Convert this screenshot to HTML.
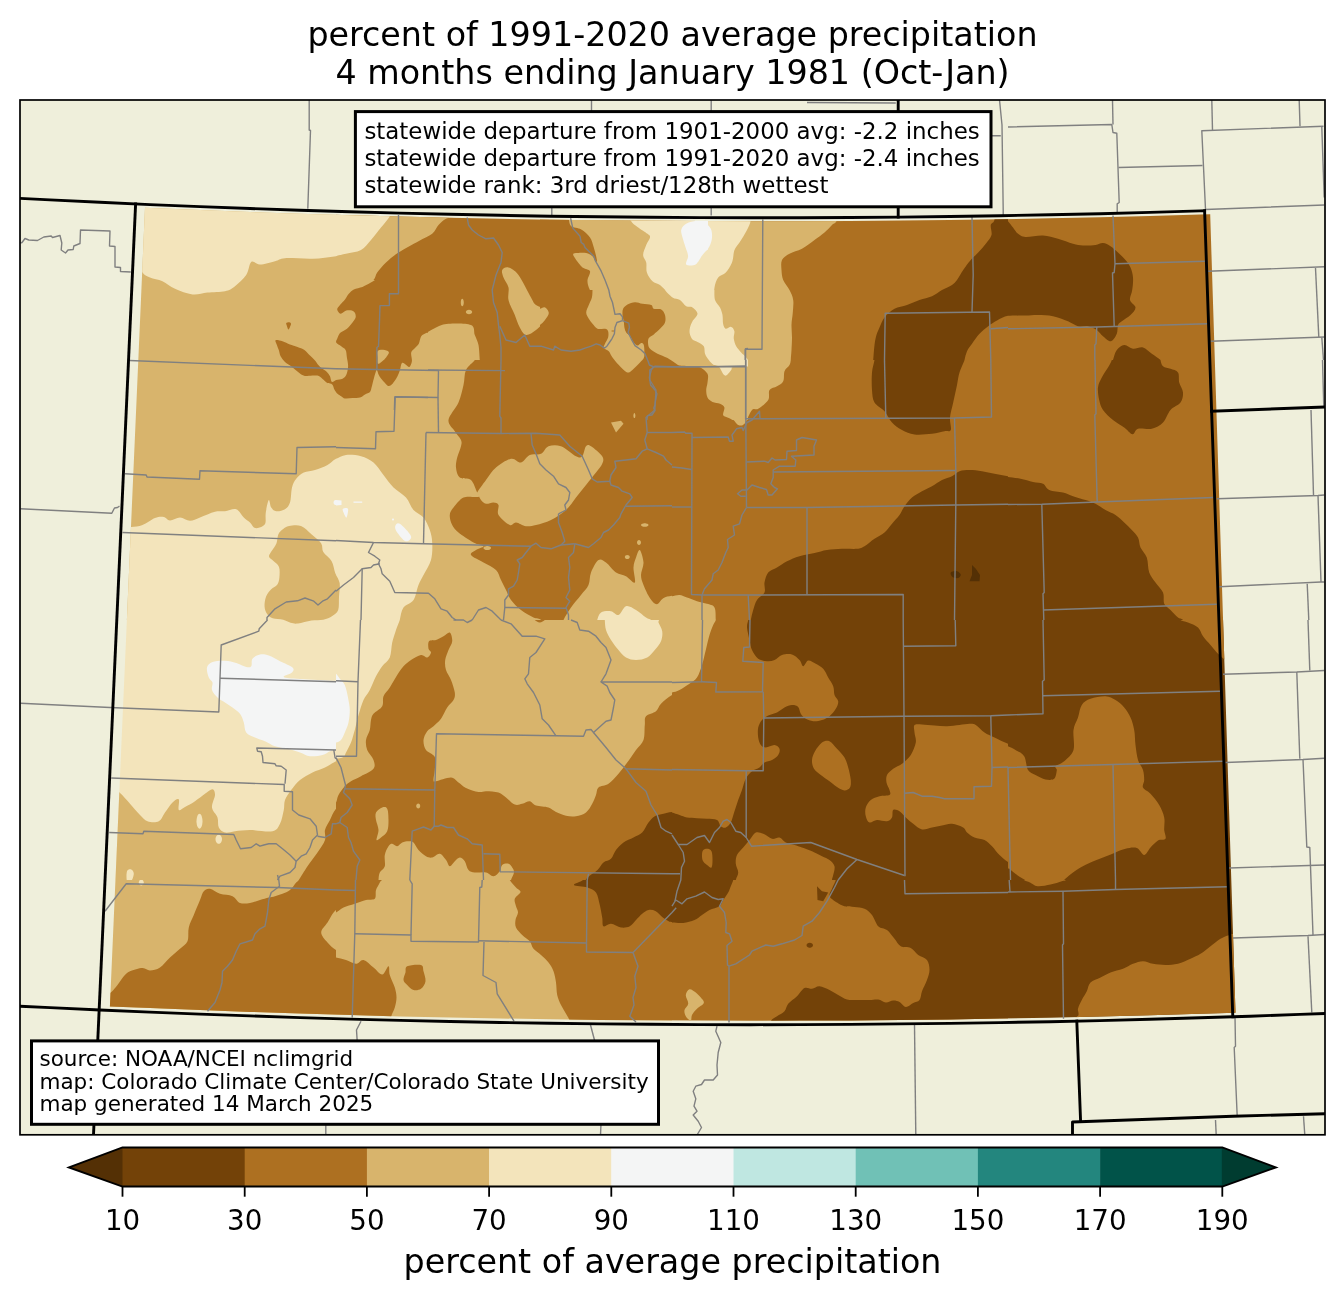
<!DOCTYPE html>
<html lang="en">
<head>
<meta charset="utf-8">
<title>percent of 1991-2020 average precipitation</title>
<style>
html,body{margin:0;padding:0;background:#fff;}
body{width:1344px;height:1299px;overflow:hidden;}
svg{display:block;}
text{font-family:"DejaVu Sans","Liberation Sans",sans-serif;fill:#000;}
.ttl{font-size:33.33px;text-anchor:middle;}
.box{font-size:22.92px;}
.src{font-size:21.5px;}
.tick{font-size:27.7px;text-anchor:middle;}
.cbl{font-size:33.33px;text-anchor:middle;}
.cty{fill:none;stroke:#808080;stroke-width:1.4;stroke-linejoin:round;}
.st{fill:none;stroke:#000;stroke-width:2.9;stroke-linecap:square;stroke-linejoin:round;}
</style>
</head>
<body>
<svg width="1344" height="1299" viewBox="0 0 1344 1299">
<defs>
<clipPath id="dq"><path d="M145,207.8L200,210.1L250,212L300,213.7L350,215.3L400,216.6L450,217.8L500,218.8L550,219.7L600,220.3L650,220.8L700,221.1L750,221.2L800,221.2L850,221L900,220.6L950,220L1000,219.2L1050,218.3L1100,217.2L1150,215.9L1200,214.4L1210.2,214.2L1235.5,1012.7L1200,1013.8L1150,1015.3L1100,1016.6L1050,1017.7L1000,1018.6L950,1019.4L900,1019.9L850,1020.4L800,1020.6L750,1020.7L700,1020.6L650,1020.3L600,1019.9L550,1019.2L500,1018.5L450,1017.5L400,1016.4L350,1015.1L300,1013.6L250,1011.9L200,1010.1L150,1008.1L109.9,1006.4Z"/></clipPath>
<clipPath id="t0"><rect x="0" y="100" width="336" height="260"/></clipPath>
<clipPath id="t1"><rect x="0" y="360" width="336" height="260"/></clipPath>
<clipPath id="t2"><rect x="0" y="620" width="336" height="260"/></clipPath>
<clipPath id="t3"><rect x="0" y="880" width="336" height="260"/></clipPath>
<clipPath id="t4"><rect x="336" y="100" width="336" height="260"/></clipPath>
<clipPath id="t5"><rect x="336" y="360" width="336" height="260"/></clipPath>
<clipPath id="t6"><rect x="336" y="620" width="336" height="260"/></clipPath>
<clipPath id="t7"><rect x="336" y="880" width="336" height="260"/></clipPath>
<clipPath id="t8"><rect x="672" y="100" width="336" height="260"/></clipPath>
<clipPath id="t9"><rect x="1008" y="100" width="336" height="260"/></clipPath>
<clipPath id="t10"><rect x="672" y="360" width="336" height="260"/></clipPath>
<clipPath id="t11"><rect x="1008" y="360" width="336" height="260"/></clipPath>
<clipPath id="t12"><rect x="672" y="620" width="336" height="260"/></clipPath>
<clipPath id="t13"><rect x="1008" y="620" width="336" height="260"/></clipPath>
<clipPath id="t14"><rect x="672" y="880" width="336" height="260"/></clipPath>
<clipPath id="t15"><rect x="1008" y="880" width="336" height="260"/></clipPath>
<clipPath id="t16"><rect x="540" y="200" width="168" height="130"/></clipPath>
<clipPath id="t17"><rect x="580" y="290" width="168" height="130"/></clipPath>
<clipPath id="t18"><rect x="260" y="280" width="168" height="130"/></clipPath>
<clipPath id="frame"><rect x="20" y="100" width="1305" height="1034.8"/></clipPath>
</defs>
<rect x="0" y="0" width="1344" height="1299" fill="#ffffff"/>
<!-- map background -->
<rect x="20" y="100" width="1305" height="1034.8" fill="#efefdb"/>
<g clip-path="url(#frame)">
<g clip-path="url(#dq)">
<g clip-path="url(#t0)">
<rect x="-0.5" y="99.5" width="337" height="261" fill="#d8b46c"/>
<path d="M120,195C84.2,205.8 136.2,247.1 140,260C143.8,272.9 140.8,269.6 142.5,272.5C144.2,275.4 146.7,276 150,277.5C153.3,279 158.3,279.4 162.5,281.2C166.7,283.1 170,286.5 175,288.8C180,291 187.1,293.9 192.5,294.5C197.9,295.1 202.1,293 207.5,292.5C212.9,292 220.4,292.3 225,291.2C229.6,290.2 231.5,289 235,286.2C238.5,283.5 243.5,279 246.2,275C249,271 249,263.8 251.2,262C253.5,260.2 256,264.6 260,264.5C264,264.4 270.8,262.3 275,261.2C279.2,260.2 278.8,258.7 285,258.2C291.2,257.8 304,259.1 312.5,258.8C321,258.4 328.9,257 336,256.2C343.1,255.5 351.8,264.7 355,254.5C358.2,244.3 394.2,204.9 355,195C315.8,185.1 155.8,184.2 120,195Z" fill="#f3e4bb"/>
<path d="M289.8,325C289.8,325.7 289.5,326.6 289.2,327.1C288.9,327.6 288.4,328 288,328C287.6,328 287.1,327.6 286.8,327.1C286.5,326.6 286.2,325.7 286.2,325C286.2,324.3 286.5,323.4 286.8,322.9C287.1,322.4 287.6,322 288,322C288.4,322 288.9,322.4 289.2,322.9C289.5,323.4 289.8,324.3 289.8,325Z" fill="#ad7021"/>
<path d="M275,340C276.6,339 282.9,342.1 287.5,343.8C292.1,345.4 297.9,347.3 302.5,350C307.1,352.7 311.2,356.9 315,360C318.8,363.1 327.5,366.7 325,368.8C322.5,370.8 307.3,373.1 300,372.5C292.7,371.9 284.9,368.8 281.2,365C277.6,361.2 279,354.2 278,350C277,345.8 273.4,341 275,340Z" fill="#ad7021"/>
</g>
<g clip-path="url(#t1)">
<rect x="-0.5" y="359.5" width="337" height="261" fill="#d8b46c"/>
<path d="M275,350C272.1,351.7 279.4,357.3 282.5,360C285.6,362.7 290.2,363.8 293.8,366.2C297.3,368.8 300.6,374 303.8,375C306.9,376 309,371.5 312.5,372.5C316,373.5 321.5,379.4 325,381.2C328.5,383.1 331.9,382.1 333.8,383.8C335.6,385.4 334.1,388.5 336,391.2C337.9,394 343.1,400.2 345,400C346.9,399.8 349,393 347.5,390C346,387 339.8,385.1 336,382C332.2,378.9 329.3,374.9 325,371.2C320.7,367.6 314.2,363.5 310,360C305.8,356.5 305.8,351.7 300,350C294.2,348.3 277.9,348.3 275,350Z" fill="#ad7021"/>
<path d="M120,528C121.9,510 127.5,527.5 131.2,527C135,526.5 138.5,526.5 142.5,525C146.5,523.5 151.5,519.3 155,518C158.5,516.7 161.2,516.6 163.8,517C166.2,517.4 167.3,520.4 170,520.5C172.7,520.6 176.7,517.5 180,517.5C183.3,517.5 186.7,520.8 190,520.8C193.3,520.8 195.8,519 200,517.5C204.2,516 210.8,512.8 215,511.8C219.2,510.7 221.5,511.7 225,511.2C228.5,510.8 233.1,508.2 236.2,509.2C239.4,510.3 241.5,515.3 243.8,517.5C246,519.7 248.1,520.8 250,522.5C251.9,524.2 252.9,527.4 255,528C257.1,528.6 260.8,527.2 262.5,526.2C264.2,525.3 265,524.8 265.5,522.5C266,520.2 265.2,516.2 265.8,512.5C266.3,508.8 267.8,500.8 268.8,500C269.7,499.2 270,505.6 271.2,507.5C272.5,509.4 274,511 276.2,511.2C278.5,511.5 282.7,510.7 285,509.2C287.3,507.8 288.8,506.1 290,502.5C291.2,498.9 291,491.5 292,487.5C293,483.5 294.3,481.2 296.2,478.8C298.2,476.2 300.6,474 303.8,472.5C306.9,471 311,471.2 315,470C319,468.8 324,466.9 327.5,465C331,463.1 332.2,460.8 336,458.8C339.8,456.7 346.8,423.1 350,452.5C353.2,481.9 393.3,604.6 355,635C316.7,665.4 159.2,652.8 120,635C80.8,617.2 118.1,546 120,528Z" fill="#f3e4bb"/>
<path d="M337.5,502.5C337.5,503.1 337.2,503.9 336.9,504.3C336.6,504.7 336,505 335.5,505C335,505 334.4,504.7 334.1,504.3C333.8,503.9 333.5,503.1 333.5,502.5C333.5,501.9 333.8,501.1 334.1,500.7C334.4,500.3 335,500 335.5,500C336,500 336.6,500.3 336.9,500.7C337.2,501.1 337.5,501.9 337.5,502.5Z" fill="#f4f5f5"/>
</g>
<g clip-path="url(#t2)">
<rect x="-0.5" y="619.5" width="337" height="261" fill="#f3e4bb"/>
<path d="M207,667.5C207.6,664.9 209.5,663.1 212.5,662C215.5,660.9 221,660.6 225,660.8C229,660.9 232.7,662 236.2,663C239.8,664 243.8,666.5 246.2,667C248.8,667.5 250.2,667.6 251.2,666.2C252.3,664.9 251,660.7 252.5,658.8C254,656.8 257.3,655 260,654.5C262.7,654 265.4,654.4 268.8,655.5C272.1,656.6 276,659.2 280,661.2C284,663.2 290.5,665.6 292.5,667.5C294.5,669.4 293.5,670.9 292,672.5C290.5,674.1 282.4,675.9 283.8,677C285.1,678.1 291.3,678.4 300,679C308.7,679.6 326.8,680.4 336,680.8C345.2,681.1 351.8,669.7 355,681.2C358.2,692.8 358.2,738.5 355,750C351.8,761.5 340.2,749.8 336,750C331.8,750.2 332.2,750.4 330,751.2C327.8,752.1 325.8,754.2 322.5,755C319.2,755.8 313.8,756.7 310,756.2C306.2,755.8 303.8,753.8 300,752.5C296.2,751.2 291.7,749.8 287.5,748.8C283.3,747.7 278.8,747.5 275,746.2C271.2,745 268.3,742.7 265,741.2C261.7,739.8 258.1,739 255,737.5C251.9,736 248.1,735 246.2,732.5C244.4,730 244.8,725.6 243.8,722.5C242.7,719.4 241.9,716.2 240,713.8C238.1,711.2 235,709.4 232.5,707.5C230,705.6 227.5,704.2 225,702.5C222.5,700.8 219.7,699.6 217.5,697.5C215.3,695.4 212.8,692.5 212,690C211.2,687.5 213,684.6 212.5,682.5C212,680.4 209.7,680 208.8,677.5C207.8,675 206.4,670.1 207,667.5Z" fill="#f4f5f5"/>
<path d="M107.5,785C109.5,767.9 115.8,789.4 119.5,792.5C123.2,795.6 126.6,800 130,803.8C133.4,807.5 137.1,812.1 140,815C142.9,817.9 144.4,820.2 147.5,821.2C150.6,822.3 155.8,822.7 158.8,821.2C161.7,819.8 162.7,815.6 165,812.5C167.3,809.4 170.2,804.7 172.5,802.5C174.8,800.3 177.7,798.2 178.8,799.5C179.8,800.8 177.7,808.8 178.8,810C179.8,811.2 182.3,808.5 185,807C187.7,805.5 191.7,803.5 195,801.2C198.3,799 202.1,795.8 205,793.8C207.9,791.8 210.8,789 212.5,789.2C214.2,789.5 215.1,792 215,795C214.9,798 211.6,803.8 212,807.5C212.4,811.2 216.4,814.2 217.5,817.5C218.6,820.8 217.5,825 218.8,827.5C220,830 222.3,831.9 225,832.5C227.7,833.1 230.8,831.7 235,831.2C239.2,830.8 243.8,830 250,830C256.2,830 267.5,832.3 272.5,831.2C277.5,830.2 278.1,827.3 280,823.8C281.9,820.2 282.9,814 283.8,810C284.6,806 283.8,803.3 285,800C286.2,796.7 288.8,793.3 291.2,790C293.8,786.7 296.5,782.9 300,780C303.5,777.1 308.3,774.6 312.5,772.5C316.7,770.4 321.1,769.4 325,767.5C328.9,765.6 331,763.8 336,761.2C341,758.8 351.8,730.2 355,752.5C358.2,774.8 396.2,871.2 355,895C313.8,918.8 148.8,913.3 107.5,895C66.2,876.7 105.5,802.1 107.5,785Z" fill="#d8b46c"/>
<path d="M202.5,821.2C202.5,823 202.1,825.3 201.6,826.6C201.1,827.8 200.2,828.8 199.5,828.8C198.8,828.8 197.9,827.8 197.4,826.6C196.9,825.3 196.5,823 196.5,821.2C196.5,819.5 196.9,817.2 197.4,815.9C197.9,814.7 198.8,813.8 199.5,813.8C200.2,813.8 201.1,814.7 201.6,815.9C202.1,817.2 202.5,819.5 202.5,821.2Z" fill="#f3e4bb"/>
<path d="M222,839.2C222,840.3 221.6,841.7 221,842.4C220.5,843.2 219.5,843.8 218.8,843.8C218,843.8 217,843.2 216.5,842.4C215.9,841.7 215.5,840.3 215.5,839.2C215.5,838.2 215.9,836.8 216.5,836.1C217,835.3 218,834.8 218.8,834.8C219.5,834.8 220.5,835.3 221,836.1C221.6,836.8 222,838.2 222,839.2Z" fill="#f3e4bb"/>
<path d="M127,871.2C127.7,869.3 130.1,869.1 131.2,869.5C132.4,869.9 133.8,871.8 133.8,873.8C133.8,875.7 132.4,880 131.2,881.2C130.1,882.5 127.7,882.9 127,881.2C126.3,879.6 126.3,873.2 127,871.2Z" fill="#f3e4bb"/>
<path d="M295,885C286.5,884.2 296.7,883.1 298.8,880C300.8,876.9 304.4,870.8 307.5,866.2C310.6,861.7 314.6,856.9 317.5,852.5C320.4,848.1 323.8,843.8 325,840C326.2,836.2 324.2,833.3 325,830C325.8,826.7 328.2,823.5 330,820C331.8,816.5 332.7,812.9 336,808.8C339.3,804.6 347.7,782.3 350,795C352.3,807.7 359.2,870 350,885C340.8,900 303.5,885.8 295,885Z" fill="#ad7021"/>
</g>
<g clip-path="url(#t3)">
<rect x="-0.5" y="879.5" width="337" height="261" fill="#d8b46c"/>
<path d="M100,1000C101.8,992.9 107.8,995 110.8,992.5C113.7,990 115.3,987.7 117.5,985C119.7,982.3 121.7,978.5 123.8,976.2C125.8,974 126.9,972.6 130,971.2C133.1,969.9 139.2,968.1 142.5,968C145.8,967.9 147.1,970.6 150,970.5C152.9,970.4 156.7,969.7 160,967.5C163.3,965.3 166.7,960.6 170,957.5C173.3,954.4 177.1,951.5 180,948.8C182.9,946 186,944.8 187.5,941.2C189,937.7 187.7,931.9 188.8,927.5C189.8,923.1 191.9,919.6 193.8,915C195.6,910.4 198.3,904 200,900C201.7,896 202.1,893.1 203.8,891.2C205.4,889.4 207.3,888.3 210,888.8C212.7,889.2 216.2,892.5 220,893.8C223.8,895 229.2,894.7 232.5,896.2C235.8,897.8 237.1,901.9 240,903C242.9,904.1 246.7,903.5 250,903C253.3,902.5 256.9,900.9 260,900C263.1,899.1 266.2,898.1 268.8,897.5C271.2,896.9 272.7,896.9 275,896.2C277.3,895.6 280,894.8 282.5,893.8C285,892.7 287.7,891.9 290,890C292.3,888.1 294.8,884.2 296.2,882.5C297.7,880.8 297.9,881.7 298.8,880C299.6,878.3 291.9,873.8 301.2,872.5C310.6,871.2 346,845.4 355,872.5C364,899.6 397.5,1007.9 355,1035C312.5,1062.1 142.5,1040.8 100,1035C57.5,1029.2 98.2,1007.1 100,1000Z" fill="#ad7021"/>
<path d="M336,910C332.2,912.9 330,918.8 327.5,922.5C325,926.2 321.2,929.2 321.2,932.5C321.2,935.8 325,939.6 327.5,942.5C330,945.4 332.2,947.9 336,950C339.8,952.1 347.7,962.5 350,955C352.3,947.5 352.3,912.5 350,905C347.7,897.5 339.8,907.1 336,910Z" fill="#d8b46c"/>
<path d="M143.8,882.5C143.8,883.2 143.4,884.1 143,884.6C142.6,885.1 141.8,885.5 141.2,885.5C140.7,885.5 139.9,885.1 139.5,884.6C139.1,884.1 138.8,883.2 138.8,882.5C138.8,881.8 139.1,880.9 139.5,880.4C139.9,879.9 140.7,879.5 141.2,879.5C141.8,879.5 142.6,879.9 143,880.4C143.4,880.9 143.8,881.8 143.8,882.5Z" fill="#f3e4bb"/>
</g>
<g clip-path="url(#t4)">
<rect x="335.5" y="99.5" width="337" height="261" fill="#ad7021"/>
<path d="M331,307.5C331.8,324.6 334.3,304.2 336,302.5C337.7,300.8 338.5,299.6 341,297.5C343.5,295.4 347.2,291.9 351,290C354.8,288.1 359.8,287.9 363.5,286.2C367.2,284.6 371.2,282.3 373.5,280C375.8,277.7 375.2,275.4 377.2,272.5C379.3,269.6 382.5,265.8 386,262.5C389.5,259.2 393.1,256 398.5,252.5C403.9,249 412.9,244.4 418.5,241.2C424.1,238.1 428.9,236.5 432.2,233.8C435.6,231 436.2,227.5 438.5,225C440.8,222.5 443.1,220.3 446,218.8C448.9,217.2 454.3,218.6 456,215.5C457.7,212.4 476.8,202.6 456,200C435.2,197.4 351.8,182.1 331,200C310.2,217.9 330.2,290.4 331,307.5Z" fill="#d8b46c"/>
<path d="M331,260C331.8,268.5 333.5,257.3 336,256.2C338.5,255.2 341.8,254.8 346,253.8C350.2,252.7 356.8,252.3 361,250C365.2,247.7 367.7,243.8 371,240C374.3,236.2 377.9,231.5 381,227.5C384.1,223.5 387.7,220 389.8,216.2C391.8,212.5 403.3,206.9 393.5,205C383.7,203.1 341.4,195.8 331,205C320.6,214.2 330.2,251.5 331,260Z" fill="#f3e4bb"/>
<path d="M331,311.2C331.8,306.9 333.3,311.5 336,311.2C338.7,311 344.1,309.2 347.2,310C350.4,310.8 353.9,313.8 354.8,316.2C355.6,318.8 354.1,322.7 352.2,325C350.4,327.3 346.2,328.1 343.5,330C340.8,331.9 338.1,335 336,336.2C333.9,337.5 331.8,341.7 331,337.5C330.2,333.3 330.2,315.6 331,311.2Z" fill="#d8b46c"/>
<path d="M416,365C405.4,364.2 415.6,362.5 416,360C416.4,357.5 417.7,353.8 418.5,350C419.3,346.2 418.1,341.2 421,337.5C423.9,333.8 431.4,329.8 436,327.5C440.6,325.2 442.7,324.2 448.5,323.8C454.3,323.3 466.6,323.1 471,325C475.4,326.9 473.5,331.7 474.8,335C476,338.3 477.7,340.8 478.5,345C479.3,349.2 479.5,356.7 479.8,360C480,363.3 490.4,364.2 479.8,365C469.1,365.8 426.6,365.8 416,365Z" fill="#d8b46c"/>
<path d="M377.2,365C375.8,364.2 377,362.3 377.2,360C377.5,357.7 377,352.9 378.5,351.2C380,349.6 384.1,349.6 386,350C387.9,350.4 389.8,352.1 389.8,353.8C389.8,355.4 386.6,358.1 386,360C385.4,361.9 387.5,364.2 386,365C384.5,365.8 378.7,365.8 377.2,365Z" fill="#d8b46c"/>
<path d="M463.8,302.5C463.8,303.4 463.6,304.5 463.3,305.2C463.1,305.8 462.6,306.2 462.2,306.2C461.9,306.2 461.4,305.8 461.2,305.2C460.9,304.5 460.8,303.4 460.8,302.5C460.8,301.6 460.9,300.5 461.2,299.8C461.4,299.2 461.9,298.8 462.2,298.8C462.6,298.8 463.1,299.2 463.3,299.8C463.6,300.5 463.8,301.6 463.8,302.5Z" fill="#d8b46c"/>
<path d="M472.2,312C472.2,312.5 471.8,313.2 471.3,313.6C470.8,314 469.8,314.2 469,314.2C468.2,314.2 467.2,314 466.7,313.6C466.2,313.2 465.8,312.5 465.8,312C465.8,311.5 466.2,310.8 466.7,310.4C467.2,310 468.2,309.8 469,309.8C469.8,309.8 470.8,310 471.3,310.4C471.8,310.8 472.2,311.5 472.2,312Z" fill="#d8b46c"/>
<path d="M502.2,270C503.1,268.3 505.8,266.7 508.5,267.5C511.2,268.3 514.8,270 518.5,275C522.2,280 528.1,292.5 531,297.5C533.9,302.5 533.1,302.7 536,305C538.9,307.3 546.8,308.8 548.5,311.2C550.2,313.8 548.1,316.9 546,320C543.9,323.1 539.3,327.5 536,330C532.7,332.5 528.7,335.4 526,335C523.3,334.6 521.6,330.8 519.8,327.5C517.9,324.2 516.6,319.6 514.8,315C512.9,310.4 509.5,304.6 508.5,300C507.5,295.4 509.3,291.2 508.5,287.5C507.7,283.8 504.5,280.4 503.5,277.5C502.5,274.6 501.4,271.7 502.2,270Z" fill="#d8b46c"/>
<path d="M568.5,200C549.3,203.2 569.8,214.9 571,219.5C572.2,224.1 573.5,225.3 576,227.5C578.5,229.7 583.5,230.4 586,232.5C588.5,234.6 589.3,236.2 591,240C592.7,243.8 594.3,249.2 596,255C597.7,260.8 598.5,267.5 601,275C603.5,282.5 608.1,291.7 611,300C613.9,308.3 618.5,318.3 618.5,325C618.5,331.7 612.7,335.8 611,340C609.3,344.2 608.5,345.8 608.5,350C608.5,354.2 598.1,362.5 611,365C623.9,367.5 673.5,392.5 686,365C698.5,337.5 705.6,227.5 686,200C666.4,172.5 587.7,196.8 568.5,200Z" fill="#d8b46c"/>
</g>
<g clip-path="url(#t5)">
<rect x="335.5" y="359.5" width="337" height="261" fill="#d8b46c"/>
<path d="M331,377.5C331.8,383.3 333.9,386.7 336,390C338.1,393.3 339.3,396.7 343.5,397.5C347.7,398.3 356.6,396.2 361,395C365.4,393.8 368.1,393.3 369.8,390C371.4,386.7 370.2,379.6 371,375C371.8,370.4 373.9,365.8 374.8,362.5C375.6,359.2 383.3,356.2 376,355C368.7,353.8 338.5,351.2 331,355C323.5,358.8 330.2,371.7 331,377.5Z" fill="#ad7021"/>
<path d="M377.2,355C371.4,357.1 376.4,363.3 377.2,367.5C378.1,371.7 380.4,377.1 382.2,380C384.1,382.9 386.2,385.2 388.5,385C390.8,384.8 394.1,381.7 396,378.8C397.9,375.8 397.2,370 399.8,367.5C402.2,365 408.9,365.8 411,363.8C413.1,361.7 417.9,356.5 412.2,355C406.6,353.5 383.1,352.9 377.2,355Z" fill="#ad7021"/>
<path d="M474.8,355C439.5,355.8 476.2,357.5 474.8,360C473.3,362.5 467.9,365.8 466,370C464.1,374.2 464.8,379.6 463.5,385C462.2,390.4 461,396.7 458.5,402.5C456,408.3 449.1,415.2 448.5,420C447.9,424.8 452.7,427.9 454.8,431.2C456.8,434.6 460,437.5 461,440C462,442.5 461.6,443.3 461,446.2C460.4,449.2 458.1,454 457.2,457.5C456.4,461 455.6,464.2 456,467.5C456.4,470.8 457.2,475.4 459.8,477.5C462.2,479.6 468.1,477.5 471,480C473.9,482.5 475.7,489.8 477.2,492.5C478.8,495.2 480.7,495.5 480.5,496.2C480.3,497 478.8,496.8 476,497C473.2,497.2 467.2,495.8 463.5,497.5C459.8,499.2 455.8,504.6 453.5,507.5C451.2,510.4 450,512.1 449.8,515C449.5,517.9 450.8,522.1 452.2,525C453.7,527.9 455,529.6 458.5,532.5C462,535.4 469.3,540.2 473.5,542.5C477.7,544.8 483.1,545 483.5,546.2C483.9,547.5 478.1,548.5 476,550C473.9,551.5 469.8,552.9 471,555C472.2,557.1 479.3,560 483.5,562.5C487.7,565 493.1,567.1 496,570C498.9,572.9 499.3,576.7 501,580C502.7,583.3 504.3,586.7 506,590C507.7,593.3 508.5,596.7 511,600C513.5,603.3 517.2,607.1 521,610C524.8,612.9 530.2,615.8 533.5,617.5C536.8,619.2 539.3,617.9 541,620C542.7,622.1 540.2,628.3 543.5,630C546.8,631.7 557.7,631.7 561,630C564.3,628.3 561.8,623.8 563.5,620C565.2,616.2 568.1,611.7 571,607.5C573.9,603.3 578.1,598.8 581,595C583.9,591.2 586.8,588.8 588.5,585C590.2,581.2 589.3,576.7 591,572.5C592.7,568.3 596,561.7 598.5,560C601,558.3 603.1,560.4 606,562.5C608.9,564.6 612.7,570.2 616,572.5C619.3,574.8 622.9,574.6 626,576.2C629.1,577.9 633.5,584 634.8,582.5C636,581 633.3,571.7 633.5,567.5C633.7,563.3 635,560.4 636,557.5C637,554.6 638.5,549.2 639.8,550C641,550.8 643.3,558.3 643.5,562.5C643.7,566.7 641,571.2 641,575C641,578.8 642,581.1 643.5,585C645,588.9 647.8,595 650,598.2C652.2,601.5 654.5,604.2 656.8,604.2C659,604.2 660.7,599.7 663.2,598.2C665.8,596.8 668.2,596.3 672,595.8C675.8,595.2 683.7,635.1 686,595C688.3,554.9 721.2,395 686,355C650.8,315 510,354.2 474.8,355Z" fill="#ad7021"/>
<path d="M478.5,495C477.9,493.8 476,495 477.2,492.5C478.5,490 482.9,484.2 486,480C489.1,475.8 491.8,471 496,467.5C500.2,464 506.8,459.6 511,458.8C515.2,457.9 517.9,463.1 521,462.5C524.1,461.9 526.4,456.5 529.8,455C533.1,453.5 537.9,455.2 541,453.8C544.1,452.3 545.2,447.5 548.5,446.2C551.8,445 556.4,444.6 561,446.2C565.6,447.9 572.5,454.6 576,456.2C579.5,457.9 580.6,457.9 582.2,456.2C583.9,454.6 584.5,447.9 586,446.2C587.5,444.6 588.3,444.6 591,446.2C593.7,447.9 600.4,453.3 602.2,456.2C604.1,459.2 603.3,461 602.2,463.8C601.2,466.5 598.7,469 596,472.5C593.3,476 589.3,480.8 586,485C582.7,489.2 579.3,493.3 576,497.5C572.7,501.7 570.2,506.2 566,510C561.8,513.8 556,517.5 551,520C546,522.5 540.2,524 536,525C531.8,526 529.3,526.7 526,526.2C522.7,525.8 518.7,522.7 516,522.5C513.3,522.3 512.7,526.2 509.8,525C506.8,523.8 500.4,518.3 498.5,515C496.6,511.7 499.3,507.1 498.5,505C497.7,502.9 495.6,502.7 493.5,502.5C491.4,502.3 488.1,504.2 486,503.8C483.9,503.3 482.2,501.5 481,500C479.8,498.5 479.1,496.2 478.5,495Z" fill="#d8b46c"/>
<path d="M617.2,355C612.7,355.8 617.9,358.3 617.2,360C616.6,361.7 611.6,363.1 613.5,365C615.4,366.9 624.1,371.2 628.5,371.2C632.9,371.2 637,366.9 639.8,365C642.5,363.1 643.9,361.7 644.8,360C645.6,358.3 649.3,355.8 644.8,355C640.2,354.2 621.8,354.2 617.2,355Z" fill="#d8b46c"/>
<path d="M611,422.5L621,420.8L623.5,423.8L616,432.5Z" fill="#d8b46c"/>
<path d="M635.5,415.8C635.5,416.4 635.3,417.2 635.1,417.7C634.9,418.2 634.5,418.5 634.2,418.5C634,418.5 633.6,418.2 633.4,417.7C633.2,417.2 633,416.4 633,415.8C633,415.1 633.2,414.3 633.4,413.8C633.6,413.3 634,413 634.2,413C634.5,413 634.9,413.3 635.1,413.8C635.3,414.3 635.5,415.1 635.5,415.8Z" fill="#d8b46c"/>
<path d="M648.5,525C648.5,525.4 648,525.9 647.4,526.2C646.8,526.5 645.6,526.8 644.8,526.8C643.9,526.8 642.7,526.5 642.1,526.2C641.5,525.9 641,525.4 641,525C641,524.6 641.5,524.1 642.1,523.8C642.7,523.5 643.9,523.2 644.8,523.2C645.6,523.2 646.8,523.5 647.4,523.8C648,524.1 648.5,524.6 648.5,525Z" fill="#d8b46c"/>
<path d="M641,542.5C641,543.1 640.7,543.9 640.4,544.3C640.1,544.7 639.5,545 639,545C638.5,545 637.9,544.7 637.6,544.3C637.3,543.9 637,543.1 637,542.5C637,541.9 637.3,541.1 637.6,540.7C637.9,540.3 638.5,540 639,540C639.5,540 640.1,540.3 640.4,540.7C640.7,541.1 641,541.9 641,542.5Z" fill="#d8b46c"/>
<path d="M629.8,557C629.8,557.5 629.4,558.1 629,558.4C628.6,558.7 627.8,559 627.2,559C626.7,559 625.9,558.7 625.5,558.4C625.1,558.1 624.8,557.5 624.8,557C624.8,556.5 625.1,555.9 625.5,555.6C625.9,555.3 626.7,555 627.2,555C627.8,555 628.6,555.3 629,555.6C629.4,555.9 629.8,556.5 629.8,557Z" fill="#d8b46c"/>
<path d="M491,548C491,548.5 490.5,549.1 489.9,549.4C489.3,549.7 488.1,550 487.2,550C486.4,550 485.2,549.7 484.6,549.4C484,549.1 483.5,548.5 483.5,548C483.5,547.5 484,546.9 484.6,546.6C485.2,546.3 486.4,546 487.2,546C488.1,546 489.3,546.3 489.9,546.6C490.5,546.9 491,547.5 491,548Z" fill="#d8b46c"/>
<path d="M331,460C331.8,431.5 333.5,459.6 336,458.8C338.5,457.9 341.8,455.4 346,455C350.2,454.6 356.4,455 361,456.2C365.6,457.5 369.8,459.4 373.5,462.5C377.2,465.6 380.2,470.8 383.5,475C386.8,479.2 389.8,483.8 393.5,487.5C397.2,491.2 402.7,493.8 406,497.5C409.3,501.2 410.6,506.7 413.5,510C416.4,513.3 420.8,514.2 423.5,517.5C426.2,520.8 428.3,525.8 429.8,530C431.2,534.2 432,537.5 432.2,542.5C432.5,547.5 432.5,554.6 431,560C429.5,565.4 425.6,570.8 423.5,575C421.4,579.2 420.2,580.8 418.5,585C416.8,589.2 416,596.2 413.5,600C411,603.8 405.8,604.2 403.5,607.5C401.2,610.8 400.6,616.2 399.8,620C398.9,623.8 410,628.3 398.5,630C387,631.7 342.2,658.3 331,630C319.8,601.7 330.2,488.5 331,460Z" fill="#f3e4bb"/>
<path d="M334.8,500L341.5,500.5L341.5,505L334.8,505.5Z" fill="#f4f5f5"/>
<path d="M353.5,501.5L362.2,501.5L362.2,502.8L353.5,502.8Z" fill="#f4f5f5"/>
<path d="M343,508.8C343.8,508.1 347.4,507.3 348,508.8C348.6,510.2 347.2,516.9 346.5,517.5C345.8,518.1 344.1,514 343.5,512.5C342.9,511 342.2,509.4 343,508.8Z" fill="#f4f5f5"/>
<path d="M395.2,526.2C395.7,524.8 397.1,522.1 399.8,523.8C402.4,525.4 410,533.3 411,536.2C412,539.2 407.8,541.9 405.5,541.2C403.2,540.6 399,535 397.2,532.5C395.5,530 394.8,527.7 395.2,526.2Z" fill="#f4f5f5"/>
<path d="M394,519.5C394,519.7 393.9,520 393.7,520.2C393.5,520.4 393.2,520.5 393,520.5C392.8,520.5 392.5,520.4 392.3,520.2C392.1,520 392,519.7 392,519.5C392,519.3 392.1,519 392.3,518.8C392.5,518.6 392.8,518.5 393,518.5C393.2,518.5 393.5,518.6 393.7,518.8C393.9,519 394,519.3 394,519.5Z" fill="#f4f5f5"/>
<path d="M597.2,625C588.1,624.2 596.6,622.1 597.2,620C597.9,617.9 598.7,614 601,612.5C603.3,611 608.1,610.8 611,611.2C613.9,611.7 616,615.8 618.5,615C621,614.2 623.1,607.1 626,606.2C628.9,605.4 632.7,608.1 636,610C639.3,611.9 643.5,615.8 646,617.5C648.5,619.2 650,618.8 651,620C652,621.2 661.2,624.2 652.2,625C643.3,625.8 606.4,625.8 597.2,625Z" fill="#f3e4bb"/>
</g>
<g clip-path="url(#t6)">
<rect x="335.5" y="619.5" width="337" height="261" fill="#d8b46c"/>
<path d="M399.8,615C411.2,615.8 400.4,617.5 399.8,620C399.1,622.5 397.2,626.2 396,630C394.8,633.8 393.3,637.9 392.2,642.5C391.2,647.1 391.4,653.5 389.8,657.5C388.1,661.5 384.5,663.1 382.2,666.2C380,669.4 378.1,672.3 376,676.2C373.9,680.2 371.8,686 369.8,690C367.7,694 365.4,695.8 363.5,700C361.6,704.2 360,710 358.5,715C357,720 356,725.4 354.8,730C353.5,734.6 352.5,738.8 351,742.5C349.5,746.2 347.2,750.1 346,752.5C344.8,754.9 345.2,756 343.5,757C341.8,758 338.1,758.5 336,758.8C333.9,759 331.8,782.7 331,758.8C330.2,734.8 319.5,639 331,615C342.5,591 388.3,614.2 399.8,615Z" fill="#f3e4bb"/>
<path d="M331,672.5C331.8,661 334.5,672.7 336,673.8C337.5,674.8 338.3,676.9 339.8,678.8C341.2,680.6 343.4,681.9 344.8,685C346.1,688.1 347.2,693.3 348,697.5C348.8,701.7 349.7,705.8 349.8,710C349.8,714.2 349.3,718.8 348.5,722.5C347.7,726.2 346,729.6 344.8,732.5C343.5,735.4 342.5,738.3 341,740C339.5,741.7 337.7,742 336,742.5C334.3,743 331.8,754.7 331,743C330.2,731.3 330.2,684 331,672.5Z" fill="#f4f5f5"/>
<path d="M604.8,615C596.2,615.8 604.5,617.5 604.8,620C605,622.5 605,626.7 606,630C607,633.3 608.9,636.7 611,640C613.1,643.3 616,647.1 618.5,650C621,652.9 623.1,655.8 626,657.5C628.9,659.2 632.5,660 636,660C639.5,660 644.1,659.2 647.2,657.5C650.4,655.8 652.5,652.7 654.8,650C657,647.3 659.8,644.4 661,641.2C662.2,638.1 662.7,634.4 662.2,631.2C661.8,628.1 659.5,625.2 658.5,622.5C657.5,619.8 665,616.2 656,615C647,613.8 613.3,614.2 604.8,615Z" fill="#f3e4bb"/>
<path d="M331,805C331.8,789.6 334.8,804.2 336,802.5C337.2,800.8 337,797.7 338.5,795C340,792.3 342.7,788.5 344.8,786.2C346.8,784 348.3,782.9 351,781.2C353.7,779.6 357.2,778.3 361,776.2C364.8,774.2 371.4,771.5 373.5,768.8C375.6,766 374.5,763.1 373.5,760C372.5,756.9 368.5,753.3 367.2,750C366,746.7 365.6,743.3 366,740C366.4,736.7 368.9,733.3 369.8,730C370.6,726.7 370.4,722.7 371,720C371.6,717.3 371.6,716 373.5,713.8C375.4,711.5 380.6,709.2 382.2,706.2C383.9,703.3 382.2,699.4 383.5,696.2C384.8,693.1 387.5,691 389.8,687.5C392,684 395,678.5 397.2,675C399.5,671.5 401.2,668.8 403.5,666.2C405.8,663.8 408.1,661.9 411,660C413.9,658.1 418.3,655.4 421,655C423.7,654.6 425.6,657.9 427.2,657.5C428.9,657.1 430.8,654 431,652.5C431.2,651 428.8,650.6 428.5,648.8C428.2,646.9 427.8,642.7 429,641.2C430.2,639.8 433.6,640.8 436,640C438.4,639.2 441.2,637.5 443.5,636.2C445.8,635 448.3,631.7 449.8,632.5C451.2,633.3 452.5,638.3 452.2,641.2C452,644.2 449.7,646.9 448.5,650C447.3,653.1 445.7,656.7 445.2,660C444.8,663.3 445,666.7 446,670C447,673.3 449.5,676.2 451,680C452.5,683.8 454.3,689.2 454.8,692.5C455.2,695.8 454.8,697.5 453.5,700C452.2,702.5 449.3,704.4 447.2,707.5C445.2,710.6 443.3,715.6 441,718.8C438.7,721.9 435.8,724.2 433.5,726.2C431.2,728.3 428.9,729 427.2,731.2C425.6,733.5 423.7,736.9 423.5,740C423.3,743.1 424.1,747.2 426,750C427.9,752.8 433.3,753.7 434.8,757C436.2,760.3 435,766.2 434.8,770C434.5,773.8 433.3,778.1 433.5,780C433.7,781.9 433.1,781.7 436,781.2C438.9,780.8 447.2,777.3 451,777.5C454.8,777.7 456,780.8 458.5,782.5C461,784.2 462.7,786.4 466,788C469.3,789.6 475.2,791.5 478.5,792C481.8,792.5 482.7,791.2 486,791.2C489.3,791.3 495.2,791.5 498.5,792.5C501.8,793.5 503.3,795.5 506,797.5C508.7,799.5 512,803.5 514.8,804.5C517.5,805.5 519.8,804.3 522.2,803.8C524.8,803.2 527.5,801 529.8,801.2C532,801.5 532.9,804.5 536,805.5C539.1,806.5 545.2,806.4 548.5,807.5C551.8,808.6 553.1,810.6 556,812C558.9,813.4 562.7,815 566,815.8C569.3,816.5 572.7,816.8 576,816.2C579.3,815.7 583.3,814.6 586,812.5C588.7,810.4 590.6,806.7 592.2,803.8C593.9,800.8 595,797.7 596,795C597,792.3 596.4,789.4 598.5,787.5C600.6,785.6 605.2,786 608.5,783.8C611.8,781.5 615.4,777.3 618.5,773.8C621.6,770.2 624.3,766.5 627.2,762.5C630.2,758.5 633.3,753.8 636,750C638.7,746.2 642,744.2 643.5,740C645,735.8 644.3,729 644.8,725C645.2,721 644.1,718.5 646,716.2C647.9,714 653.5,713.3 656,711.2C658.5,709.2 658.3,706.5 661,703.8C663.7,701 667.8,697.7 672,695C676.2,692.3 683.7,654.2 686,687.5C688.3,720.8 745.2,860.4 686,895C626.8,929.6 390.2,910 331,895C271.8,880 330.2,820.4 331,805Z" fill="#ad7021"/>
<path d="M581,895C563.9,895 582.4,887.9 583.5,885C584.6,882.1 585.2,880 587.5,877.5C589.8,875 594.8,872.5 597.5,870C600.2,867.5 601.2,864.4 603.5,862.5C605.8,860.6 608.9,860.8 611,858.8C613.1,856.7 613.9,852.7 616,850C618.1,847.3 620.6,844.6 623.5,842.5C626.4,840.4 630.4,839.2 633.5,837.5C636.6,835.8 639.8,835 642.2,832.5C644.8,830 646.4,825.2 648.5,822.5C650.6,819.8 652.2,817.7 654.8,816.2C657.2,814.8 660.6,814.5 663.5,813.8C666.4,813 668.2,812.4 672,812C675.8,811.6 683.7,799.1 686,811.2C688.3,823.4 703.5,871 686,885C668.5,899 598.1,895 581,895Z" fill="#734208"/>
<path d="M376,812.5C377,810.4 380.4,808.1 382.2,807.5C384.1,806.9 386.2,806.7 387.2,808.8C388.3,810.8 388.5,816.2 388.5,820C388.5,823.8 388.5,828.3 387.2,831.2C386,834.2 382.8,836 381,837.5C379.2,839 376.9,841.2 376.5,840C376.1,838.8 378.6,833.3 378.5,830C378.4,826.7 376.4,822.9 376,820C375.6,817.1 375,814.6 376,812.5Z" fill="#d8b46c"/>
<path d="M420.2,806C420.2,806.6 420,807.4 419.7,807.8C419.3,808.2 418.7,808.5 418.2,808.5C417.8,808.5 417.2,808.2 416.8,807.8C416.5,807.4 416.2,806.6 416.2,806C416.2,805.4 416.5,804.6 416.8,804.2C417.2,803.8 417.8,803.5 418.2,803.5C418.7,803.5 419.3,803.8 419.7,804.2C420,804.6 420.2,805.4 420.2,806Z" fill="#d8b46c"/>
<path d="M378.5,885C356.4,884.2 378.3,882.1 378.5,880C378.7,877.9 378.7,874.8 379.8,872.5C380.8,870.2 383.9,869.2 384.8,866.2C385.6,863.3 384.1,858.3 384.8,855C385.4,851.7 387.2,848.1 388.5,846.2C389.8,844.4 390.8,843.8 392.2,843.8C393.7,843.8 395.6,846.5 397.2,846.2C398.9,846 400.4,843.3 402.2,842.5C404.1,841.7 406.6,841.2 408.5,841.2C410.4,841.2 411.8,841 413.5,842.5C415.2,844 416.4,847.7 418.5,850C420.6,852.3 423.7,855 426,856.2C428.3,857.5 430,857.9 432.2,857.5C434.5,857.1 437.5,853.3 439.8,853.8C442,854.2 444.3,857.9 446,860C447.7,862.1 448.3,866 449.8,866.2C451.2,866.5 453.1,862.7 454.8,861.2C456.4,859.8 458.1,857.5 459.8,857.5C461.4,857.5 463.3,859.2 464.8,861.2C466.2,863.3 466.8,868.1 468.5,870C470.2,871.9 471.8,872.1 474.8,872.5C477.7,872.9 482.9,871.9 486,872.5C489.1,873.1 491.2,876.5 493.5,876.2C495.8,876 498.3,873.1 499.8,871.2C501.2,869.4 500.8,866.2 502.2,865C503.7,863.8 506.8,863.3 508.5,863.8C510.2,864.2 511.3,866 512.2,867.5C513.2,869 514.2,870.4 514,872.5C513.8,874.6 511.5,877.9 511,880C510.5,882.1 533.1,884.2 511,885C488.9,885.8 400.6,885.8 378.5,885Z" fill="#d8b46c"/>
<path d="M534.8,617.5C533.1,617.9 533.9,619.2 534.8,620C535.6,620.8 538.1,622.5 539.8,622.5C541.4,622.5 543.9,620.8 544.8,620C545.6,619.2 546.4,617.9 544.8,617.5C543.1,617.1 536.4,617.1 534.8,617.5Z" fill="#ad7021"/>
</g>
<g clip-path="url(#t7)">
<rect x="335.5" y="879.5" width="337" height="261" fill="#d8b46c"/>
<path d="M331,912.5C331.8,918.8 333.9,913.3 336,912.5C338.1,911.7 340.4,909 343.5,907.5C346.6,906 351,905 354.8,903.8C358.5,902.5 362.7,900.8 366,900C369.3,899.2 373.1,900.4 374.8,898.8C376.4,897.1 375.2,892.7 376,890C376.8,887.3 378.9,885 379.8,882.5C380.6,880 389.1,876.2 381,875C372.9,873.8 339.3,868.8 331,875C322.7,881.2 330.2,906.2 331,912.5Z" fill="#ad7021"/>
<path d="M331,957.5C331.8,945.4 333.5,957.1 336,957.5C338.5,957.9 342.7,959 346,960C349.3,961 353.1,963.8 356,963.8C358.9,963.8 360.6,959.4 363.5,960C366.4,960.6 370.4,965.1 373.5,967.5C376.6,969.9 379.8,974.7 382.2,974.5C384.8,974.3 387.2,966.2 388.5,966.2C389.8,966.3 388.7,971.5 389.8,975C390.8,978.5 393.6,983.8 394.8,987.5C395.9,991.2 396.5,994.2 396.5,997.5C396.5,1000.8 395.7,1004.2 394.8,1007.5C393.8,1010.8 391.8,1013.8 391,1017.5C390.2,1021.2 399.8,1027.9 389.8,1030C379.8,1032.1 340.8,1042.1 331,1030C321.2,1017.9 330.2,969.6 331,957.5Z" fill="#ad7021"/>
<path d="M407.2,966.2C409.8,965 418.3,964.2 421,965C423.7,965.8 422.8,968.5 423.5,971.2C424.2,974 425.9,978.3 425.5,981.2C425.1,984.2 423,987.3 421,988.8C419,990.2 415.8,990.6 413.5,990C411.2,989.4 408.9,986.7 407.2,985C405.6,983.3 403.8,982.1 403.5,980C403.2,977.9 404.9,974.8 405.5,972.5C406.1,970.2 404.7,967.5 407.2,966.2Z" fill="#ad7021"/>
<path d="M509.8,875C480.4,875.8 508.7,877.9 509.8,880C510.8,882.1 514.2,885.5 516,887.5C517.8,889.5 520.7,890.1 520.5,892C520.3,893.9 515.5,896.4 514.8,898.8C514,901.1 515.5,904 516,906.2C516.5,908.5 518.1,910.2 518,912.5C517.9,914.8 515.8,917.5 515.5,920C515.2,922.5 514.9,925 516,927.5C517.1,930 520,932.7 522.2,935C524.5,937.3 527.9,939 529.8,941.2C531.6,943.5 531.6,946.5 533.5,948.8C535.4,951 538.5,952.7 541,955C543.5,957.3 546.4,959.8 548.5,962.5C550.6,965.2 552.2,967.9 553.5,971.2C554.8,974.6 555.4,978.5 556,982.5C556.6,986.5 556.4,991.2 557.2,995C558.1,998.8 559.5,1001.9 561,1005C562.5,1008.1 564.5,1011 566,1013.8C567.5,1016.5 568.7,1017.7 569.8,1021.2C570.8,1024.8 552.9,1032.7 572.2,1035C591.6,1037.3 667,1061.7 686,1035C705,1008.3 715.4,901.7 686,875C656.6,848.3 539.1,874.2 509.8,875Z" fill="#ad7021"/>
<path d="M588.5,872.5C571.3,873.3 585.4,877.9 583,880C580.6,882.1 573.2,883.8 574,885C574.8,886.2 583.8,886.2 587.5,887.5C591.2,888.8 594,889.6 596,892.5C598,895.4 598.7,900.8 599.8,905C600.8,909.2 601.6,914 602.2,917.5C602.9,921 602,925.2 603.5,926.2C605,927.3 608.1,923.5 611,923.8C613.9,924 617.9,927.1 621,927.5C624.1,927.9 627.2,927.5 629.8,926.2C632.2,925 633.9,922.1 636,920C638.1,917.9 640.2,915.4 642.2,913.8C644.3,912.1 646.2,910.4 648.5,910C650.8,909.6 653.4,910 655.8,911.2C658.1,912.5 660.7,915.9 662.8,917.5C664.8,919.1 666.7,920.2 668.2,921C669.8,921.8 669,921.7 672,922C675,922.3 683.7,930.8 686,923C688.3,915.2 702.2,883.4 686,875C669.8,866.6 605.7,871.7 588.5,872.5Z" fill="#734208"/>
</g>
<g clip-path="url(#t8)">
<rect x="671.5" y="99.5" width="337" height="261" fill="#ad7021"/>
<path d="M667,200C695.3,171.7 808.7,196.8 837,200C865.3,203.2 837.8,215.3 837,219.5C836.2,223.7 834.1,222.8 832,225C829.9,227.2 827.4,230 824.5,232.5C821.6,235 818.2,237.3 814.5,240C810.8,242.7 806.2,246.5 802,248.8C797.8,251 792.8,251.9 789.5,253.8C786.2,255.6 783.3,257.3 782,260C780.7,262.7 781.3,266.7 781.5,270C781.7,273.3 781.9,276.7 783.2,280C784.6,283.3 787.8,286.7 789.5,290C791.2,293.3 792.7,296.2 793.2,300C793.8,303.8 793,308.3 792.8,312.5C792.5,316.7 791.6,320.8 791.5,325C791.4,329.2 792,333.3 792,337.5C792,341.7 791.7,346.2 791.5,350C791.3,353.8 790.9,356.7 790.8,360C790.6,363.3 811.4,368.3 790.8,370C770.1,371.7 687.6,398.3 667,370C646.4,341.7 638.7,228.3 667,200Z" fill="#d8b46c"/>
<path d="M667,200C681,183.8 736.8,196.8 750.8,200C764.7,203.2 751.4,214.5 750.8,219.5C750.1,224.5 748.9,226.2 747,230C745.1,233.8 741.6,239.2 739.5,242.5C737.4,245.8 735.8,246.7 734.5,250C733.2,253.3 733.5,258.8 732,262.5C730.5,266.2 728,270 725.8,272.5C723.5,275 720.1,275 718.2,277.5C716.4,280 715.1,283.8 714.5,287.5C713.9,291.2 713.5,296.2 714.5,300C715.5,303.8 719.3,305.8 720.8,310C722.2,314.2 721.8,321.7 723.2,325C724.7,328.3 727.8,327.9 729.5,330C731.2,332.1 732.4,334.2 733.2,337.5C734.1,340.8 733.5,346.2 734.5,350C735.5,353.8 738.2,356.7 739.5,360C740.8,363.3 747.4,368.3 742,370C736.6,371.7 713,371.7 707,370C701,368.3 706.6,363.8 705.8,360C704.9,356.2 703.9,350.8 702,347.5C700.1,344.2 696.6,342.7 694.5,340C692.4,337.3 690.1,334 689.5,331.2C688.9,328.5 689.5,326.5 690.8,323.8C692,321 697.2,317.5 697,315C696.8,312.5 692,310.8 689.5,308.8C687,306.7 684.9,304.2 682,302.5C679.1,300.8 674.5,299.6 672,298.8C669.5,297.9 667.8,314 667,297.5C666.2,281 653,216.2 667,200Z" fill="#f3e4bb"/>
<path d="M682,230C682.6,227.9 683.7,225.3 685.8,223.8C687.8,222.2 691.4,220.7 694.5,220.5C697.6,220.3 701.8,221.1 704.5,222.5C707.2,223.9 709.5,226.2 710.8,228.8C712,231.2 712.2,234.6 712,237.5C711.8,240.4 711,243.3 709.5,246.2C708,249.2 705.3,252.1 703.2,255C701.2,257.9 699.7,262.2 697,263.8C694.3,265.3 688.6,265.8 687,264.5C685.4,263.2 687.9,259.5 687.5,256.2C687.1,253 685.4,248.3 684.5,245C683.6,241.7 682.4,238.8 682,236.2C681.6,233.8 681.4,232.1 682,230Z" fill="#f4f5f5"/>
<path d="M994.5,200C989.9,203.2 995.1,215.3 994.5,219.5C993.9,223.7 991.2,222.4 990.8,225C990.2,227.6 992.3,231.9 991.5,235C990.7,238.1 988,240.8 985.8,243.8C983.5,246.7 980.8,249.8 978.2,252.5C975.8,255.2 973.2,257.1 970.8,260C968.2,262.9 965.5,266.7 963.2,270C961,273.3 958.9,277.5 957,280C955.1,282.5 954.5,283.3 952,285C949.5,286.7 945.3,288.1 942,290C938.7,291.9 935.8,294.6 932,296.2C928.2,297.9 923.7,298.5 919.5,300C915.3,301.5 911.2,303.5 907,305C902.8,306.5 898.2,306.7 894.5,308.8C890.8,310.8 887,314.4 884.5,317.5C882,320.6 881,324.2 879.5,327.5C878,330.8 876.7,333.8 875.8,337.5C874.8,341.2 874.4,346.2 874,350C873.6,353.8 873.6,356.7 873.2,360C872.9,363.3 847.2,368.3 872,370C896.8,371.7 997,398.3 1022,370C1047,341.7 1026.6,228.3 1022,200C1017.4,171.7 999.1,196.8 994.5,200Z" fill="#734208"/>
<path d="M1022,315.5C1019.7,306.5 1012.2,314.9 1008,315.8C1003.8,316.6 1000.3,318.8 997,320.5C993.7,322.2 991.2,324 988.2,326.2C985.3,328.5 982.2,330.8 979.5,333.8C976.8,336.7 974.1,340.8 972,343.8C969.9,346.7 968.2,348.5 967,351.2C965.8,354 965.1,356.9 964.5,360C963.9,363.1 953.7,368.3 963.2,370C972.8,371.7 1012.2,379.1 1022,370C1031.8,360.9 1024.3,324.5 1022,315.5Z" fill="#ad7021"/>
</g>
<g clip-path="url(#t9)">
<rect x="1007.5" y="99.5" width="337" height="261" fill="#ad7021"/>
<path d="M1003,217.5C1003.8,201.8 1006.3,219.6 1008,221.2C1009.7,222.9 1011.3,225.4 1013,227.5C1014.7,229.6 1015.9,232.2 1018,233.8C1020.1,235.3 1021.3,236.7 1025.5,237C1029.7,237.3 1037.6,235.2 1043,235.5C1048.4,235.8 1053,237.4 1058,238.8C1063,240.1 1068.8,242.6 1073,243.8C1077.2,244.9 1079.2,245.3 1083,245.5C1086.8,245.7 1092.2,245.4 1095.5,245C1098.8,244.6 1100.5,242.8 1103,243C1105.5,243.2 1108,244.7 1110.5,246.2C1113,247.8 1115.5,250.2 1118,252.5C1120.5,254.8 1123.4,257.5 1125.5,260C1127.6,262.5 1129.2,264.6 1130.5,267.5C1131.8,270.4 1132.7,273.8 1133,277.5C1133.3,281.2 1132.8,286.2 1132.2,290C1131.8,293.8 1129.5,297.1 1130,300C1130.5,302.9 1135.4,305 1135.5,307.5C1135.6,310 1132.8,312.7 1130.5,315C1128.2,317.3 1123.8,319.6 1121.8,321.2C1119.7,322.9 1118.8,322.9 1118,325C1117.2,327.1 1117.9,331 1116.8,333.8C1115.6,336.5 1113.3,340.8 1111,341.2C1108.7,341.7 1105.4,338.1 1103,336.2C1100.6,334.4 1099.2,331.7 1096.8,330C1094.2,328.3 1091.1,326.9 1088,326.2C1084.9,325.6 1081.3,327.1 1078,326.2C1074.7,325.4 1072.2,322.9 1068,321.2C1063.8,319.6 1058,317.3 1053,316.2C1048,315.2 1042.6,315.1 1038,315C1033.4,314.9 1030.5,315.4 1025.5,315.5C1020.5,315.6 1011.8,315.7 1008,315.8C1004.2,315.8 1003.8,332.1 1003,315.8C1002.2,299.4 1002.2,233.2 1003,217.5Z" fill="#734208"/>
<path d="M1111.8,365C1103.2,364.2 1112.2,362.5 1113,360C1113.8,357.5 1114.9,352.5 1116.8,350C1118.6,347.5 1121.5,345.2 1124.2,345C1127,344.8 1129.9,348.3 1133,348.8C1136.1,349.2 1139.9,346.7 1143,347.5C1146.1,348.3 1148.8,351.7 1151.8,353.8C1154.7,355.8 1158.4,358.1 1160.5,360C1162.6,361.9 1172.4,364.2 1164.2,365C1156.1,365.8 1120.3,365.8 1111.8,365Z" fill="#734208"/>
</g>
<g clip-path="url(#t10)">
<rect x="671.5" y="359.5" width="337" height="261" fill="#ad7021"/>
<path d="M667,355C652.6,355 698.2,354.2 704.5,355C710.8,355.8 703.9,357.1 704.5,360C705.1,362.9 708,368.3 708.2,372.5C708.5,376.7 706,380.8 705.8,385C705.5,389.2 705.3,394.6 707,397.5C708.7,400.4 712.8,401 715.8,402.5C718.7,404 723.2,404 724.5,406.2C725.8,408.5 722,414.2 723.2,416.2C724.5,418.3 729.5,417.3 732,418.8C734.5,420.2 736.2,424.2 738.2,425C740.3,425.8 742.2,426.2 744.5,423.8C746.8,421.2 749.7,412.5 752,410C754.3,407.5 755.5,410.4 758.2,408.8C761,407.1 766.4,403.1 768.2,400C770.1,396.9 768,392.3 769.5,390C771,387.7 774.7,387.7 777,386.2C779.3,384.8 782,383.8 783.2,381.2C784.5,378.8 783.5,374 784.5,371.2C785.5,368.5 788.5,366.9 789.5,365C790.5,363.1 790.5,361.7 790.8,360C791,358.3 811.4,355.8 790.8,355C770.1,354.2 681.4,355 667,355Z" fill="#d8b46c"/>
<path d="M709.5,355C703.2,355.8 708.2,358.1 709.5,360C710.8,361.9 714.5,363.7 717,366.2C719.5,368.8 721.8,375.3 724.5,375.5C727.2,375.7 729.7,369 733.2,367.5C736.8,366 743.5,367.5 745.8,366.2C748,365 746.8,361.9 747,360C747.2,358.1 753.2,355.8 747,355C740.8,354.2 715.8,354.2 709.5,355Z" fill="#f3e4bb"/>
<path d="M667,596.2C667.8,590.6 669.9,596.5 672,596.2C674.1,596 677,594.8 679.5,595C682,595.2 684.1,596.5 687,597.5C689.9,598.5 693.7,600.2 697,601.2C700.3,602.3 704.1,602.7 707,603.8C709.9,604.8 713,604.8 714.5,607.5C716,610.2 715.5,616.2 715.8,620C716,623.8 723.9,628.3 715.8,630C707.6,631.7 675.1,635.6 667,630C658.9,624.4 666.2,601.9 667,596.2Z" fill="#d8b46c"/>
<path d="M874.5,355C859.5,355.8 874.9,357.1 874.5,360C874.1,362.9 872.4,367.5 872,372.5C871.6,377.5 871.6,385 872,390C872.4,395 872.4,399 874.5,402.5C876.6,406 881.6,407.9 884.5,411.2C887.4,414.6 889.1,419.4 892,422.5C894.9,425.6 898.2,428 902,430C905.8,432 909.5,433.9 914.5,434.5C919.5,435.1 927,434.3 932,433.8C937,433.2 941.4,431.9 944.5,431.2C947.6,430.6 949.8,432.3 950.8,430C951.7,427.7 949.6,422.1 950,417.5C950.4,412.9 952.1,407.9 953.2,402.5C954.4,397.1 956,390 957,385C958,380 958.2,376.7 959.5,372.5C960.8,368.3 963.7,362.9 964.5,360C965.3,357.1 979.5,355.8 964.5,355C949.5,354.2 889.5,354.2 874.5,355Z" fill="#734208"/>
<path d="M1022,477.5C1019.7,451.9 1012.6,476.9 1008,476.2C1003.4,475.6 998.8,474.6 994.5,473.8C990.2,472.9 986.2,471.9 982,471.2C977.8,470.6 973.2,470 969.5,470C965.8,470 962.4,470.2 959.5,471.2C956.6,472.3 954.9,474.8 952,476.2C949.1,477.7 945.3,478.3 942,480C938.7,481.7 935.3,484.4 932,486.2C928.7,488.1 925.3,489.4 922,491.2C918.7,493.1 914.9,495 912,497.5C909.1,500 906.6,503.3 904.5,506.2C902.4,509.2 901.6,512.1 899.5,515C897.4,517.9 894.5,520.8 892,523.8C889.5,526.7 887.4,530 884.5,532.5C881.6,535 877.8,536.5 874.5,538.8C871.2,541 867.4,544.6 864.5,546.2C861.6,547.9 860.8,548.3 857,548.8C853.2,549.2 847,548.5 842,548.8C837,549 831.6,549.3 827,550C822.4,550.7 819.1,552 814.5,553C809.9,554 804.1,554.9 799.5,556.2C794.9,557.6 790.8,559.4 787,561.2C783.2,563.1 780.1,565.6 777,567.5C773.9,569.4 770.3,570 768.2,572.5C766.2,575 765.1,579.2 764.5,582.5C763.9,585.8 765.8,589.6 764.5,592.5C763.2,595.4 758.9,597.1 757,600C755.1,602.9 754.3,606.7 753.2,610C752.2,613.3 751.4,616.7 750.8,620C750.1,623.3 704.3,628.3 749.5,630C794.7,631.7 976.6,655.4 1022,630C1067.4,604.6 1024.3,503.1 1022,477.5Z" fill="#734208"/>
<path d="M950.8,572.5C951.5,571.5 955.3,570.9 957,571.2C958.7,571.6 960.5,573.4 960.8,574.5C961,575.6 959.6,577.6 958.2,578C956.9,578.4 953.8,577.9 952.5,577C951.2,576.1 950,573.5 950.8,572.5Z" fill="#543005"/>
<path d="M972,565L975.8,568.8L980,575L979.5,581.2L969.5,581.2L972,575Z" fill="#543005"/>
</g>
<g clip-path="url(#t11)">
<rect x="1007.5" y="359.5" width="337" height="261" fill="#ad7021"/>
<path d="M1111.8,355C1103.6,355.8 1112.4,357.9 1111.8,360C1111.1,362.1 1109.7,364.6 1108,367.5C1106.3,370.4 1103.4,374.2 1101.8,377.5C1100.1,380.8 1098.4,383.8 1098,387.5C1097.6,391.2 1098.4,396.2 1099.2,400C1100.1,403.8 1100.7,406.7 1103,410C1105.3,413.3 1109.5,417.1 1113,420C1116.5,422.9 1121,425.1 1124.2,427.5C1127.5,429.9 1130.2,434 1132.5,434.2C1134.8,434.5 1134.8,429.7 1138,428.8C1141.2,427.8 1147.6,429.8 1151.8,428.8C1155.9,427.7 1159.9,425.6 1163,422.5C1166.1,419.4 1167.6,413.3 1170.5,410C1173.4,406.7 1178.4,405.4 1180.5,402.5C1182.6,399.6 1183.2,395.8 1183,392.5C1182.8,389.2 1180.1,385.8 1179.2,382.5C1178.4,379.2 1179.5,374.8 1178,372.5C1176.5,370.2 1173,369.8 1170.5,368.8C1168,367.7 1164.7,367.7 1163,366.2C1161.3,364.8 1160.9,361.9 1160.5,360C1160.1,358.1 1168.6,355.8 1160.5,355C1152.4,354.2 1119.9,354.2 1111.8,355Z" fill="#734208"/>
<path d="M1003,476.2C1003.8,450.8 1005.1,476.6 1008,477C1010.9,477.4 1016.3,477.9 1020.5,478.8C1024.7,479.6 1029.2,481.2 1033,482C1036.8,482.8 1040.3,482.4 1043,483.8C1045.7,485.1 1045.9,488.5 1049.2,490C1052.6,491.5 1059,491.5 1063,492.5C1067,493.5 1069.2,495 1073,496.2C1076.8,497.5 1081.8,498.8 1085.5,500C1089.2,501.2 1092.2,502.1 1095.5,503.8C1098.8,505.4 1102.2,508.1 1105.5,510C1108.8,511.9 1112.4,512.9 1115.5,515C1118.6,517.1 1121.5,520 1124.2,522.5C1127,525 1129.5,527.5 1131.8,530C1134,532.5 1136.5,534.6 1138,537.5C1139.5,540.4 1139,544.2 1140.5,547.5C1142,550.8 1145.3,553.3 1146.8,557.5C1148.2,561.7 1147.8,568.3 1149.2,572.5C1150.7,576.7 1153.2,579.2 1155.5,582.5C1157.8,585.8 1161.5,589 1163,592.5C1164.5,596 1163,600.8 1164.2,603.8C1165.5,606.7 1168.2,607.7 1170.5,610C1172.8,612.3 1175.9,615.8 1178,617.5C1180.1,619.2 1180.9,617.9 1183,620C1185.1,622.1 1220.5,628.3 1190.5,630C1160.5,631.7 1034.2,655.6 1003,630C971.8,604.4 1002.2,501.8 1003,476.2Z" fill="#734208"/>
</g>
<g clip-path="url(#t12)">
<rect x="671.5" y="619.5" width="337" height="261" fill="#734208"/>
<path d="M667,615C680.5,582.2 734.7,614.2 748.2,615C761.8,615.8 748.5,617.9 748.2,620C748,622.1 746.8,624.2 747,627.5C747.2,630.8 748.7,636.2 749.5,640C750.3,643.8 750.5,646.9 752,650C753.5,653.1 755.8,656.9 758.2,658.8C760.8,660.6 764.3,661 767,661.2C769.7,661.5 772,661 774.5,660C777,659 779.1,655.9 782,655C784.9,654.1 789.1,653.7 792,654.5C794.9,655.3 797.6,658 799.5,660C801.4,662 801.8,666.2 803.2,666.2C804.7,666.3 806.2,660.9 808.2,660.5C810.3,660.1 813.2,662.4 815.8,663.8C818.2,665.1 821.2,666.5 823.2,668.8C825.3,671 826.6,674.6 828.2,677.5C829.9,680.4 832.2,683.3 833.2,686.2C834.3,689.2 833.7,692.5 834.5,695C835.3,697.5 838,699 838.2,701.2C838.5,703.5 837.2,706.2 835.8,708.8C834.3,711.2 831.8,714.4 829.5,716.2C827.2,718.1 824.7,719.2 822,720C819.3,720.8 816,721.5 813.2,721.2C810.5,721 807.8,720 805.8,718.8C803.7,717.5 802,715.7 800.8,713.8C799.5,711.8 799.7,708.5 798.2,707C796.8,705.5 794.3,704.9 792,705C789.7,705.1 787,706.2 784.5,707.5C782,708.8 779.7,711.2 777,712.5C774.3,713.8 770.8,714.2 768.2,715.5C765.8,716.8 763.7,718 762,720C760.3,722 758.9,724.6 758.2,727.5C757.6,730.4 757.8,734.6 758.2,737.5C758.7,740.4 759.5,743.3 760.8,745C762,746.7 763.5,747.5 765.8,747.5C768,747.5 772.2,744.8 774.5,745C776.8,745.2 778.9,747.1 779.5,748.8C780.1,750.4 779.5,753.1 778.2,755C777,756.9 774.3,758.8 772,760C769.7,761.2 766.6,761.2 764.5,762.5C762.4,763.8 761.6,766 759.5,767.5C757.4,769 754.3,769.4 752,771.2C749.7,773.1 747.4,775.6 745.8,778.8C744.1,781.9 743.2,786.5 742,790C740.8,793.5 739.5,796.5 738.2,800C737,803.5 735.8,807.5 734.5,811.2C733.2,815 732.2,819.8 730.8,822.5C729.3,825.2 727.4,826.9 725.8,827.5C724.1,828.1 722.2,827.5 720.8,826.2C719.3,825 719.3,821.2 717,820C714.7,818.8 710.3,819 707,818.8C703.7,818.5 700.3,818.5 697,818.2C693.7,818 689.9,818 687,817.5C684.1,817 682,815.8 679.5,815C677,814.2 674.1,813 672,812.5C669.9,812 667.8,844.9 667,812C666.2,779.1 653.5,647.8 667,615Z" fill="#ad7021"/>
<path d="M667,615C675.1,602 707.6,614.2 715.8,615C723.9,615.8 716.2,618.3 715.8,620C715.3,621.7 714.3,622.5 713.2,625C712.2,627.5 710.8,630.8 709.5,635C708.2,639.2 707,645 705.8,650C704.5,655 703.5,660.4 702,665C700.5,669.6 699.1,674.4 697,677.5C694.9,680.6 692.4,681.7 689.5,683.8C686.6,685.8 682.4,688.5 679.5,690C676.6,691.5 674.1,692 672,692.5C669.9,693 667.8,705.9 667,693C666.2,680.1 658.9,628 667,615Z" fill="#d8b46c"/>
<path d="M822,742.5C824.4,740.8 827,740.2 829.5,741.2C832,742.3 834.5,746 837,748.8C839.5,751.5 842.6,754.4 844.5,757.5C846.4,760.6 847.2,763.8 848.2,767.5C849.3,771.2 850.5,776.7 850.8,780C851,783.3 851,785.8 850,787.5C849,789.2 846.7,790.6 844.5,790.5C842.3,790.4 839.5,788.5 837,787C834.5,785.5 832.2,783.2 829.5,781.2C826.8,779.2 823.3,777.1 820.8,775C818.2,772.9 815.5,771.2 814,768.8C812.5,766.2 811.8,762.9 812,760C812.2,757.1 813.3,754.2 815,751.2C816.7,748.3 819.6,744.2 822,742.5Z" fill="#ad7021"/>
<path d="M914.5,725C915.8,723.7 918.7,724.4 922,724.5C925.3,724.6 930.3,725.2 934.5,725.5C938.7,725.8 942.8,726.3 947,726.2C951.2,726.2 955.8,725.4 959.5,725C963.2,724.6 966.8,723.8 969.5,723.8C972.2,723.8 973.2,723.5 975.8,725C978.2,726.5 981.4,730.4 984.5,732.5C987.6,734.6 990.6,735.6 994.5,737.5C998.4,739.4 1003.4,742.1 1008,743.8C1012.6,745.4 1019.7,726.5 1022,747.5C1024.3,768.5 1024.3,850.9 1022,870C1019.7,889.1 1011.8,864.5 1008,862C1004.2,859.5 1002.2,857.6 999.5,855C996.8,852.4 994.5,848.8 992,846.2C989.5,843.8 987.4,841.5 984.5,840C981.6,838.5 977.4,838.8 974.5,837.5C971.6,836.2 968.9,834.2 967,832.5C965.1,830.8 965.8,829 963.2,827.5C960.8,826 955.5,824.1 952,823.8C948.5,823.4 945.3,824.9 942,825.5C938.7,826.1 935.3,826.8 932,827.5C928.7,828.2 925.1,830.1 922,829.5C918.9,828.9 916,825.8 913.2,823.8C910.5,821.8 908,819.6 905.8,817.5C903.5,815.4 901.6,812.5 899.5,811.2C897.4,810 894.5,809 893.2,810C892,811 893,815.6 892,817.5C891,819.4 889.5,820.8 887,821.2C884.5,821.7 879.9,819.8 877,820C874.1,820.2 871.4,823.1 869.5,822.5C867.6,821.9 866.4,818.8 865.8,816.2C865.1,813.8 864.9,810.2 865.8,807.5C866.6,804.8 868.5,801.9 870.8,800C873,798.1 876.4,797.1 879.5,796.2C882.6,795.4 887.8,796 889.5,795C891.2,794 890,792.1 889.5,790C889,787.9 886.9,785 886.5,782.5C886.1,780 885.9,777.3 887,775C888.1,772.7 890.8,770.6 893.2,768.8C895.8,766.9 899.1,766 902,763.8C904.9,761.5 908.5,758.5 910.8,755C913,751.5 915.1,746.2 915.8,742.5C916.4,738.8 914.7,735.4 914.5,732.5C914.3,729.6 913.2,726.3 914.5,725Z" fill="#ad7021"/>
<path d="M734.5,890C718.5,888.3 735.1,882.9 735.8,880C736.4,877.1 738.2,875.2 738.2,872.5C738.2,869.8 736,866.7 735.8,863.8C735.5,860.8 735.8,857.7 737,855C738.2,852.3 741.2,850 743.2,847.5C745.3,845 747.4,842.5 749.5,840C751.6,837.5 753.5,833.5 755.8,832.5C758,831.5 760.5,832.7 763.2,833.8C766,834.8 769.3,838.1 772,838.8C774.7,839.4 777.2,836.9 779.5,837.5C781.8,838.1 783.2,841.2 785.8,842.5C788.2,843.8 791.8,844.2 794.5,845C797.2,845.8 799.1,846.5 802,847.5C804.9,848.5 808.7,849.8 812,851.2C815.3,852.7 819.1,854.8 822,856.2C824.9,857.7 827.4,858.3 829.5,860C831.6,861.7 833.9,863.8 834.5,866.2C835.1,868.8 833.7,872.7 833.2,875C832.8,877.3 832.2,877.5 832,880C831.8,882.5 848.2,888.3 832,890C815.8,891.7 750.5,891.7 734.5,890Z" fill="#ad7021"/>
<path d="M702.5,851.2C703.2,849.4 705.5,848.8 707,848.8C708.5,848.8 710.6,849.4 711.5,851.2C712.4,853.1 712.5,857.3 712.5,860C712.5,862.7 712.4,866.7 711.5,867.5C710.6,868.3 708.5,866.2 707,865C705.5,863.8 703.2,862.3 702.5,860C701.8,857.7 701.8,853.1 702.5,851.2Z" fill="#ad7021"/>
</g>
<g clip-path="url(#t13)">
<rect x="1007.5" y="619.5" width="337" height="261" fill="#734208"/>
<path d="M1180.5,615C1169.7,615.8 1179.2,618.8 1180.5,620C1181.8,621.2 1185.1,621.2 1188,622.5C1190.9,623.8 1195.5,625.2 1198,627.5C1200.5,629.8 1200.9,633.3 1203,636.2C1205.1,639.2 1208,642.1 1210.5,645C1213,647.9 1215.5,651.2 1218,653.8C1220.5,656.2 1223,658.5 1225.5,660C1228,661.5 1229.7,669.2 1233,662.5C1236.3,655.8 1243.4,627.9 1245.5,620C1247.6,612.1 1256.3,615.8 1245.5,615C1234.7,614.2 1191.3,614.2 1180.5,615Z" fill="#ad7021"/>
<path d="M1003,745C1003.8,726 1005.9,745.4 1008,746.2C1010.1,747.1 1012.8,748.3 1015.5,750C1018.2,751.7 1022.2,752.9 1024.2,756.2C1026.3,759.6 1026.1,766.9 1028,770C1029.9,773.1 1032.6,773.4 1035.5,775C1038.4,776.6 1042.4,778.9 1045.5,779.5C1048.6,780.1 1052.4,780.3 1054.2,778.8C1056.1,777.2 1056.5,772.1 1056.8,770C1057,767.9 1054.2,767.7 1055.5,766.2C1056.8,764.8 1061.2,764 1064.2,761.2C1067.2,758.5 1072,755.2 1073.5,750C1075,744.8 1072.8,735.4 1073.5,730C1074.2,724.6 1076.6,721.7 1078,717.5C1079.4,713.3 1079.7,708.1 1081.8,705C1083.8,701.9 1086.5,700.2 1090.5,698.8C1094.5,697.3 1101.3,696 1105.5,696.2C1109.7,696.5 1112.4,698.1 1115.5,700C1118.6,701.9 1121.8,704.6 1124.2,707.5C1126.8,710.4 1128.8,713.8 1130.5,717.5C1132.2,721.2 1133.4,725.4 1134.2,730C1135.1,734.6 1134.9,740 1135.5,745C1136.1,750 1136.8,755.8 1138,760C1139.2,764.2 1142,766.7 1143,770C1144,773.3 1144.2,777.1 1144.2,780C1144.2,782.9 1142,785.2 1143,787.5C1144,789.8 1147.8,790.8 1150.5,793.8C1153.2,796.7 1157,801 1159.2,805C1161.5,809 1163.4,813.3 1164.2,817.5C1165.1,821.7 1164,826.5 1164.2,830C1164.5,833.5 1166.5,837 1165.5,838.8C1164.5,840.5 1160.5,839 1158,840.5C1155.5,842 1152.8,845.1 1150.5,847.5C1148.2,849.9 1146.5,854.9 1144.2,855C1142,855.1 1139.9,849 1136.8,848C1133.6,847 1129,848 1125.5,848.8C1122,849.5 1119.2,851 1115.5,852.5C1111.8,854 1107.2,855.8 1103,857.5C1098.8,859.2 1094.2,860.8 1090.5,862.5C1086.8,864.2 1083.4,865.8 1080.5,867.5C1077.6,869.2 1075.3,870.8 1073,872.5C1070.7,874.2 1068.6,876 1066.8,877.5C1064.9,879 1064.5,880.1 1061.8,881.2C1059,882.4 1054.5,883.7 1050.5,884.5C1046.5,885.3 1040.9,886.6 1037.5,886.2C1034.1,885.9 1032.9,884 1030,882.5C1027.1,881 1023.4,879.3 1020,877C1016.6,874.7 1012.3,871.6 1009.5,868.8C1006.7,865.9 1004.1,880.6 1003,860C1001.9,839.4 1002.2,764 1003,745Z" fill="#ad7021"/>
</g>
<g clip-path="url(#t14)">
<rect x="671.5" y="879.5" width="337" height="261" fill="#ad7021"/>
<path d="M667,875C678,867.1 722.2,874.2 733.2,875C744.3,875.8 733.7,878.1 733.2,880C732.8,881.9 731.6,884.2 730.8,886.2C729.9,888.3 729.5,890.2 728.2,892.5C727,894.8 724.7,897.7 723.2,900C721.8,902.3 721.8,904.6 719.5,906.2C717.2,907.9 712.4,908.5 709.5,910C706.6,911.5 704.5,913.3 702,915C699.5,916.7 697.6,918.7 694.5,920C691.4,921.3 687,922.6 683.2,923C679.5,923.4 674.7,922.6 672,922.5C669.3,922.4 667.8,930.4 667,922.5C666.2,914.6 656,882.9 667,875Z" fill="#734208"/>
<path d="M835.8,875C804.7,875.8 836.4,877.7 835.8,880C835.1,882.3 833,886 832,888.8C831,891.5 828.7,894 829.5,896.2C830.3,898.5 834.5,900.8 837,902.5C839.5,904.2 841.6,905.5 844.5,906.2C847.4,907 851.2,906.6 854.5,907C857.8,907.4 861.6,907.4 864.5,908.8C867.4,910.1 869.7,912.1 872,915C874.3,917.9 875.8,923.8 878.2,926.2C880.8,928.8 884.3,927.9 887,930C889.7,932.1 892.2,936 894.5,938.8C896.8,941.5 898,944.7 900.8,946.2C903.5,947.8 907.8,946.5 910.8,948C913.7,949.5 915.5,953 918.2,955C921,957 925.1,957.5 927,960C928.9,962.5 929.5,966.7 929.5,970C929.5,973.3 928.2,976.5 927,980C925.8,983.5 923.2,987.9 922,991.2C920.8,994.6 921,998 919.5,1000C918,1002 915.5,1001.8 913.2,1003C911,1004.2 908,1007.2 905.8,1007C903.5,1006.8 901.6,1003.1 899.5,1002C897.4,1000.9 895.5,1000.4 893.2,1000.5C891,1000.6 888.2,1002.7 885.8,1002.5C883.2,1002.3 881,999.9 878.2,999.5C875.5,999.1 873,999.9 869.5,1000C866,1000.1 860.8,1000.1 857,1000C853.2,999.9 850.1,1000.3 847,999.5C843.9,998.7 841.2,996.6 838.2,995C835.3,993.4 832.6,991.5 829.5,990C826.4,988.5 822.4,986.5 819.5,986.2C816.6,986 814.5,988.5 812,988.8C809.5,989 807,986.8 804.5,988C802,989.2 799.7,993.6 797,996.2C794.3,998.9 790.3,1001.2 788.2,1003.8C786.2,1006.2 786.4,1009.2 784.5,1011.2C782.6,1013.3 779.3,1014.6 777,1016.2C774.7,1017.9 772.4,1018.1 770.8,1021.2C769.1,1024.4 725.1,1032.7 767,1035C808.9,1037.3 979.5,1061.7 1022,1035C1064.5,1008.3 1053,901.7 1022,875C991,848.3 866.8,874.2 835.8,875Z" fill="#734208"/>
<path d="M817,886.2L822,891.2L828.2,892.5L823.2,901.2L817.5,900Z" fill="#734208"/>
<path d="M813,945.2C813,945.8 812.6,946.6 812,947C811.5,947.4 810.5,947.8 809.8,947.8C809,947.8 808,947.4 807.5,947C806.9,946.6 806.5,945.8 806.5,945.2C806.5,944.7 806.9,943.9 807.5,943.5C808,943.1 809,942.8 809.8,942.8C810.5,942.8 811.5,943.1 812,943.5C812.6,943.9 813,944.7 813,945.2Z" fill="#734208"/>
<path d="M689.5,989.2C691.2,988.8 693.9,991.1 695.8,992.5C697.6,993.9 699.4,995.8 700.8,997.5C702.1,999.2 704.4,1001.1 703.8,1003C703.1,1004.9 699,1006.8 697,1008.8C695,1010.8 693,1013 692,1015C691,1017 691.8,1020.3 690.8,1020.5C689.7,1020.7 686.8,1018 685.8,1016.2C684.7,1014.5 684.1,1012.1 684.5,1010C684.9,1007.9 688,1006.2 688.2,1003.8C688.5,1001.2 685.5,997.4 685.8,995C686,992.6 687.8,989.7 689.5,989.2Z" fill="#d8b46c"/>
</g>
<g clip-path="url(#t15)">
<rect x="1007.5" y="879.5" width="337" height="261" fill="#734208"/>
<path d="M1078,1008.8C1078.5,1006.2 1080.3,1002.9 1081.8,1000C1083.2,997.1 1085.3,994.2 1086.8,991.2C1088.2,988.3 1088.2,984.8 1090.5,982.5C1092.8,980.2 1097.2,979.2 1100.5,977.5C1103.8,975.8 1106.8,974 1110.5,972.5C1114.2,971 1119.2,970.2 1123,968.8C1126.8,967.3 1129.7,965 1133,963.8C1136.3,962.5 1139.7,961.2 1143,961.2C1146.3,961.2 1149.2,963.1 1153,963.8C1156.8,964.4 1161.3,965 1165.5,965C1169.7,965 1173.8,964.8 1178,963.8C1182.2,962.7 1186.8,960.4 1190.5,958.8C1194.2,957.1 1197.2,955.8 1200.5,953.8C1203.8,951.7 1207.2,948.8 1210.5,946.2C1213.8,943.8 1217.6,940.5 1220.5,938.8C1223.4,937 1225.9,936.3 1228,935.5C1230.1,934.7 1229.7,934.2 1233,933.8C1236.3,933.2 1245.5,916.5 1248,932.5C1250.5,948.5 1276.8,1013.8 1248,1030C1219.2,1046.2 1103.8,1032.5 1075.5,1030C1047.2,1027.5 1078.1,1018.5 1078.5,1015C1078.9,1011.5 1077.5,1011.2 1078,1008.8Z" fill="#ad7021"/>
<path d="M1068,875C1075.2,875.8 1067,879 1066,880C1065,881 1064.3,880.5 1061.8,881.2C1059.2,882 1054.5,883.7 1050.5,884.5C1046.5,885.3 1040.9,886.6 1037.5,886.2C1034.1,885.9 1032.2,883.5 1030,882.5C1027.8,881.5 1025.2,881.2 1024,880C1022.8,878.8 1015.7,875.8 1023,875C1030.3,874.2 1060.8,874.2 1068,875Z" fill="#ad7021"/>
</g>
<g clip-path="url(#t16)">
<rect x="539.5" y="199.5" width="169" height="131" fill="#d8b46c"/>
<path d="M537.5,212.5C542.7,192.5 563.5,211.5 568.8,212.5C574,213.5 568.3,216.5 568.8,218.8C569.2,221 569.2,224.5 571.2,226.2C573.3,228 578.1,227.5 581.2,229.4C584.4,231.2 587.9,234.5 590,237.5C592.1,240.5 592.6,243.8 593.8,247.5C594.9,251.2 596.6,257.7 596.9,260C597.2,262.3 596.4,262.1 595.6,261.5C594.9,260.9 594.1,257.6 592.5,256.2C590.9,254.9 588.8,253.6 586.2,253.1C583.8,252.6 579.7,252.9 577.5,253.1C575.3,253.3 573.3,253.2 573.1,254.4C572.9,255.5 574.7,257.8 576.2,260C577.8,262.2 580.2,265.6 582.5,267.5C584.8,269.4 589.2,269.2 590,271.2C590.8,273.3 587.7,277.3 587.5,280C587.3,282.7 587.9,284.8 588.8,287.5C589.6,290.2 592.3,293.5 592.5,296.2C592.7,299 591,301 590,303.8C589,306.5 586.2,309.6 586.2,312.5C586.2,315.4 588.3,318.5 590,321.2C591.7,324 594.6,326.9 596.2,328.8C597.9,330.6 609.8,331.9 600,332.5C590.2,333.1 547.9,352.5 537.5,332.5C527.1,312.5 532.3,232.5 537.5,212.5Z" fill="#ad7021"/>
<path d="M537.5,308.8C537.9,305.9 538.8,309 540,308.8C541.2,308.5 543.5,306.8 545,307.5C546.5,308.2 548.8,311 548.8,313.1C548.8,315.2 546.5,318 545,320C543.5,322 541.2,324.1 540,325C538.8,325.9 537.9,328.3 537.5,325.6C537.1,322.9 537.1,311.6 537.5,308.8Z" fill="#d8b46c"/>
<path d="M621.9,311.2C622.1,309 622.8,307.8 625,306.2C627.2,304.7 630.8,302.1 635,301.9C639.2,301.7 645.8,303.8 650,305C654.2,306.2 657.5,307.5 660,309.4C662.5,311.2 664.4,313.9 665,316.2C665.6,318.6 664.8,321.5 663.8,323.8C662.7,326 660,328.1 658.8,330C657.5,331.9 661.7,334.2 656.2,335C650.8,335.8 631.5,335.8 626.2,335C621,334.2 625.4,332.5 625,330C624.6,327.5 624.3,323.1 623.8,320C623.2,316.9 621.7,313.5 621.9,311.2Z" fill="#ad7021"/>
<path d="M631.2,212.5C617.3,214 630.2,218.9 631.2,221.2C632.3,223.6 634.8,224.8 637.5,226.9C640.2,229 645.4,232 647.5,233.8C649.6,235.5 650.2,235.6 650,237.5C649.8,239.4 647.4,242.1 646.2,245C645.1,247.9 643.1,252.1 643.1,255C643.1,257.9 645.6,259.6 646.2,262.5C646.9,265.4 645.8,269.4 646.9,272.5C647.9,275.6 650.3,279.2 652.5,281.2C654.7,283.3 657.5,283.1 660,285C662.5,286.9 665,290.1 667.5,292.5C670,294.9 672.9,298.1 675,299.4C677.1,300.6 678.1,298.8 680,300C681.9,301.2 684,305.6 686.2,306.9C688.5,308.1 691.8,306.4 693.8,307.5C695.7,308.6 697.8,311.7 697.8,313.8C697.8,315.8 695,317.3 693.8,320C692.5,322.7 690.8,327.5 690,330C689.2,332.5 684.6,334.2 688.8,335C692.9,335.8 710.6,355.4 715,335C719.4,314.6 729,232.9 715,212.5C701,192.1 645.2,211 631.2,212.5Z" fill="#f3e4bb"/>
<path d="M681.2,230C681.7,227.8 682.9,225.8 685,224.4C687.1,222.9 689.9,221.9 693.8,221.2C697.6,220.6 704.5,220.7 708,220.6C711.5,220.5 713.8,216.1 715,220.6C716.2,225.1 716.2,242.7 715,247.5C713.8,252.3 710.1,248.1 708,249.4C705.9,250.6 704.6,252.5 702.5,255C700.4,257.5 698.3,262.8 695.6,264.4C692.9,265.9 687.5,265.7 686.2,264.4C685,263 688.2,259.1 688.1,256.2C688,253.4 686.6,250.6 685.6,247.5C684.7,244.4 683.2,240.4 682.5,237.5C681.8,234.6 680.8,232.2 681.2,230Z" fill="#f4f5f5"/>
</g>
<g clip-path="url(#t17)">
<rect x="579.5" y="289.5" width="169" height="131" fill="#d8b46c"/>
<path d="M577.5,287.5C580,264.6 590,287.1 592.5,287.5C595,287.9 592.6,288.3 592.5,290C592.4,291.7 592.5,295 591.9,297.5C591.2,300 589.7,302.5 588.8,305C587.8,307.5 586.2,310.2 586.2,312.5C586.2,314.8 587.7,316.9 588.8,318.8C589.8,320.6 591,322.1 592.5,323.8C594,325.4 595.4,327.9 597.5,328.8C599.6,329.6 603.2,328.3 605,328.8C606.8,329.2 607.6,329.8 608.1,331.2C608.6,332.7 608.6,335.4 608.1,337.5C607.6,339.6 605.7,342 605,343.8C604.3,345.5 603.1,346.9 603.8,348.1C604.4,349.4 607.3,349.7 608.8,351.2C610.2,352.8 610.8,355.2 612.5,357.5C614.2,359.8 616.5,362.6 618.8,365C621,367.4 624.4,370.7 626.2,371.9C628.1,373 628.5,372.6 630,371.9C631.5,371.1 633.3,369.1 635,367.5C636.7,365.9 638.5,364.1 640,362.5C641.5,360.9 643,359.8 643.8,358.1C644.5,356.5 644.4,354.7 644.4,352.5C644.4,350.3 644.3,346.6 643.8,345C643.2,343.4 642.3,343 641.2,343.1C640.2,343.2 638.8,345.7 637.5,345.6C636.2,345.5 635,344.1 633.8,342.5C632.5,340.9 631.2,337.9 630,336.2C628.8,334.6 627.2,334 626.2,332.5C625.3,331 624.8,329.4 624.4,327.5C624,325.6 624.1,323.3 623.8,321.2C623.4,319.2 622.6,317.1 622.5,315C622.4,312.9 622.3,310.5 623.1,308.8C624,307 625.5,305.5 627.5,304.4C629.5,303.3 632.5,302.4 635,302.2C637.5,302.1 639.8,303.3 642.5,303.8C645.2,304.2 649.4,304.2 651.2,305C653.1,305.8 652.1,308 653.8,308.8C655.4,309.5 659.4,308.3 661.2,309.4C663.1,310.4 664.4,312.8 665,315C665.6,317.2 665.8,320.2 665,322.5C664.2,324.8 661.9,326.8 660,328.8C658.1,330.7 655.6,332.8 653.8,334.4C651.9,335.9 649.7,336.6 648.8,338.1C647.8,339.7 647.9,342 648.1,343.8C648.3,345.5 648.4,347.1 650,348.8C651.6,350.4 654.6,352.2 657.5,353.8C660.4,355.3 664.4,356.5 667.5,358.1C670.6,359.8 674.2,362.5 676.2,363.8C678.3,365 677.3,365.2 680,365.6C682.7,366 689.2,366 692.5,366.2C695.8,366.5 697.5,366 700,367.2C702.5,368.5 706.2,371.2 707.5,373.8C708.8,376.3 707.7,379.8 707.5,382.5C707.3,385.2 706.2,387.5 706.2,390C706.2,392.5 706.5,395.5 707.5,397.5C708.5,399.5 710.4,400.8 712.5,401.9C714.6,402.9 718,402.8 720,403.8C722,404.7 723.9,405.6 724.4,407.5C724.9,409.4 722.6,413.3 723.1,415C723.6,416.7 725.9,416.7 727.5,417.5C729.1,418.3 730.8,418.8 732.5,420C734.2,421.2 763.3,424.2 737.5,425C711.7,425.8 604.2,447.9 577.5,425C550.8,402.1 575,310.4 577.5,287.5Z" fill="#ad7021"/>
<path d="M665,287.5C656.8,287.9 663.8,288.3 665,290C666.2,291.7 670,295.8 672.5,297.5C675,299.2 677.7,298.5 680,300C682.3,301.5 684.2,305 686.2,306.2C688.3,307.5 690.6,306.2 692.5,307.5C694.4,308.8 697.5,311.5 697.5,313.8C697.5,316 693.8,319 692.5,321.2C691.2,323.5 690.5,325.4 690,327.5C689.5,329.6 689.3,331.8 689.8,333.8C690.2,335.7 691.2,338 692.5,339.4C693.8,340.7 695.6,340.7 697.5,341.9C699.4,343 702.5,344.3 703.8,346.2C705,348.2 704.2,351.5 705,353.8C705.8,356 707.3,358.1 708.8,360C710.2,361.9 712.1,363.9 713.8,365C715.4,366.1 716.9,364.7 718.8,366.5C720.6,368.3 722.9,375 725,375.6C727.1,376.2 729.9,371.5 731.2,370C732.6,368.5 730.3,367.5 733.1,366.9C735.9,366.3 745.2,366.8 748,366.5C750.8,366.2 750,366.1 750,365C750,363.9 748.8,361.5 748,360C747.2,358.5 746.1,357.5 745,356.2C743.9,355 742.7,354.2 741.2,352.5C739.8,350.8 737.5,348.5 736.2,346.2C735,344 734.1,341.2 733.8,338.8C733.4,336.2 734.8,333.2 734.4,331.2C734,329.3 732.7,327.3 731.2,326.9C729.8,326.5 727,329.3 725.6,328.8C724.3,328.2 723.6,326 723.1,323.8C722.6,321.5 723,317.7 722.5,315C722,312.3 721.2,310 720,307.5C718.8,305 715.9,302.9 715,300C714.1,297.1 714.5,292.1 714.4,290C714.3,287.9 722.6,287.9 714.4,287.5C706.1,287.1 673.2,287.1 665,287.5Z" fill="#f3e4bb"/>
<path d="M635.4,415.6C635.4,416.2 635.2,417 635.1,417.4C634.9,417.8 634.6,418.1 634.4,418.1C634.1,418.1 633.8,417.8 633.7,417.4C633.5,417 633.4,416.2 633.4,415.6C633.4,415 633.5,414.3 633.7,413.9C633.8,413.4 634.1,413.1 634.4,413.1C634.6,413.1 634.9,413.4 635.1,413.9C635.2,414.3 635.4,415 635.4,415.6Z" fill="#d8b46c"/>
<path d="M614.9,331C614.9,331.1 614.7,331.3 614.4,331.4C614.1,331.5 613.5,331.6 613.1,331.6C612.7,331.6 612.2,331.5 611.9,331.4C611.6,331.3 611.4,331.1 611.4,331C611.4,330.9 611.6,330.7 611.9,330.6C612.2,330.5 612.7,330.4 613.1,330.4C613.5,330.4 614.1,330.5 614.4,330.6C614.7,330.7 614.9,330.9 614.9,331Z" fill="#ad7021"/>
</g>
<g clip-path="url(#t18)">
<rect x="259.5" y="279.5" width="169" height="131" fill="#d8b46c"/>
<path d="M375,277.5C365,277.9 376,279 375,280C374,281 370.8,282.6 368.8,283.8C366.7,284.9 365,285.9 362.5,286.9C360,287.8 356,288.2 353.8,289.4C351.5,290.5 350.2,292.1 348.8,293.8C347.3,295.4 346.5,297.5 345,299.4C343.5,301.2 341.3,303.3 340,305C338.7,306.7 337.1,307.9 337.2,309.4C337.4,310.8 339.1,313.5 340.6,313.8C342.1,314 344.4,311.1 346.2,310.6C348.1,310.1 350.4,310.2 351.9,310.6C353.3,311 354.4,312 355,313.1C355.6,314.3 356,315.9 355.6,317.5C355.2,319.1 353.6,320.9 352.5,322.5C351.4,324.1 350,325.6 348.8,326.9C347.5,328.1 346.5,329 345,330C343.5,331 341.2,331.8 340,333.1C338.8,334.5 338.1,336.6 337.5,338.1C336.9,339.7 335.6,341.1 336.2,342.5C336.9,343.9 339.7,345 341.2,346.2C342.8,347.5 344.7,348.1 345.6,350C346.6,351.9 346.5,354.8 346.9,357.5C347.3,360.2 348.2,363.3 348.1,366.2C348,369.2 347.2,372.9 346.2,375C345.3,377.1 344.2,377.9 342.5,378.8C340.8,379.6 338,379.5 336.2,380C334.5,380.5 332.9,382.5 331.9,381.9C330.8,381.2 330.8,377.9 330,376.2C329.2,374.6 328.1,373.1 326.9,371.9C325.6,370.6 323.9,369.8 322.5,368.8C321.1,367.7 320,367 318.8,365.6C317.5,364.3 316.5,362.3 315,360.6C313.5,359 311.8,357.4 310,355.6C308.2,353.9 306.5,351.5 304.4,350C302.3,348.5 299.9,347.8 297.5,346.9C295.1,345.9 292.5,345.3 290,344.4C287.5,343.4 284.9,341.9 282.5,341.2C280.1,340.6 276.6,339.6 275.6,340.2C274.7,340.9 276.4,343.4 276.9,345C277.4,346.6 278.1,348.1 278.8,350C279.4,351.9 279.6,354.3 280.6,356.2C281.7,358.2 283.2,360.2 285,361.9C286.8,363.5 289.4,364.8 291.2,366.2C293.1,367.7 294.6,369.3 296.2,370.6C297.9,372 299.6,373.5 301.2,374.4C302.9,375.3 304.2,375.8 306.2,376C308.3,376.2 311.7,375.6 313.8,375.6C315.8,375.6 317.1,375.3 318.8,376C320.4,376.7 322.3,378.8 323.8,380C325.2,381.2 326.1,382.4 327.5,383.1C328.9,383.9 331.1,383.3 332.2,384.4C333.4,385.4 333.5,387.8 334.4,389.4C335.2,390.9 336.4,392.6 337.5,393.8C338.6,394.9 340,395.5 341.2,396.2C342.5,397 343.1,398.2 345,398.5C346.9,398.8 350,398.3 352.5,398.1C355,398 357.9,398.1 360,397.5C362.1,396.9 363.3,395.3 365,394.4C366.7,393.4 368.9,393.2 370,391.9C371.1,390.5 371.2,388.4 371.9,386.2C372.5,384.1 373.1,381 373.8,378.8C374.4,376.5 375.1,374 375.6,372.5C376.1,371 376.4,369.6 376.9,370C377.4,370.4 378,373.5 378.8,375C379.5,376.5 380.2,377.4 381.2,378.8C382.3,380.1 383.9,381.9 385,383.1C386.1,384.3 387.1,385.7 388.1,386C389.2,386.3 390.2,385.8 391.2,385C392.3,384.2 393.3,382.7 394.4,381.2C395.4,379.8 396.6,378.1 397.5,376.2C398.4,374.4 399.3,372.2 400,370C400.7,367.8 400.9,364.1 401.9,363.1C402.8,362.2 404.4,363.8 405.6,364.4C406.9,365 408.3,367.4 409.4,366.9C410.4,366.4 411.6,363.6 411.9,361.2C412.2,358.9 410.7,354.7 411.2,352.5C411.8,350.3 413.8,349.6 415,348.1C416.2,346.7 417.7,345.7 418.8,343.8C419.8,341.8 420,338 421.2,336.2C422.5,334.5 425.1,333.7 426.2,333.1C427.4,332.5 426.5,332.9 428,332.8C429.5,332.6 433.8,341.7 435,332.5C436.2,323.3 445,286.7 435,277.5C425,268.3 385,277.1 375,277.5Z" fill="#ad7021"/>
<path d="M377.5,351.2C378.4,350 381.2,349.6 383.1,349.8C385,349.9 388.1,350.8 388.8,351.9C389.4,353 387.8,354.8 386.9,356.2C385.9,357.7 384.6,359.4 383.1,360.6C381.7,361.9 379.1,364.3 378.1,363.8C377.2,363.2 377.6,359.6 377.5,357.5C377.4,355.4 376.6,352.5 377.5,351.2Z" fill="#d8b46c"/>
<path d="M286.2,323.1C286.6,322.4 288.6,322.1 289.4,322.2C290.2,322.4 290.9,323 291,323.8C291.1,324.5 290.4,325.9 290,326.9C289.6,327.8 289,329.4 288.5,329.4C288,329.4 287.6,327.9 287.2,326.9C286.9,325.8 285.9,323.9 286.2,323.1Z" fill="#ad7021"/>
</g>
<path d="M289.1,526C292.1,525.5 297.3,524.7 301,526C304.7,527.4 308.1,531.4 311.4,534.2C314.8,537.1 319.1,540.2 321.1,543.2C323.1,546.1 321.6,549.1 323.3,552.1C325.1,555.1 329.5,557.5 331.5,561C333.5,564.5 333.9,569.2 335.2,572.9C336.6,576.6 339.1,579.4 339.7,583.3C340.3,587.3 339.2,592.3 339,596.7C338.7,601.2 339.3,606.9 338.2,610.1C337.1,613.3 334.7,614.5 332.3,616.1C329.8,617.7 326.8,619 323.3,619.8C319.9,620.5 315.6,619.9 311.4,620.5C307.2,621.2 301.5,623.1 298,623.5C294.6,623.9 293.1,623.4 290.6,622.8C288.1,622.1 286.1,620.5 283.2,619.8C280.2,619 275.3,619.2 272.7,618.3C270.1,617.4 268.9,616.4 267.5,614.6C266.2,612.7 264.8,610.1 264.6,607.1C264.3,604.2 264.9,599.7 266,596.7C267.2,593.8 269.4,591.3 271.2,589.3C273.1,587.3 275.8,586.8 277.2,584.8C278.6,582.8 279.1,580.4 279.4,577.4C279.7,574.4 280,569.7 279,567C278,564.2 275.1,562.7 273.5,561C271.8,559.3 269.3,558.3 269,556.5C268.8,554.8 270.8,552.8 272,550.6C273.2,548.4 275.4,545.9 276.5,543.2C277.5,540.4 277.3,536.6 278.4,534.2C279.5,531.9 281.4,530.4 283.2,529C284.9,527.7 286.1,526.5 289.1,526Z" fill="#d8b46c"/>
</g>
<path class="cty" d="M309.2,100L309.2,130L310.5,130.5L307.8,208.8"/>
<path class="cty" d="M20.5,243L22,242.5L25,238.5L28.8,240L37.5,240.5L43.8,237L51.2,236L52.5,237.5L60,235.5L61.8,243L61.2,250L65.5,253L68,250L73.2,249.5L73.8,246L80,243.5L80.5,230L110,231L109.5,246L115,246.5L115,267L120.5,267.5L120.5,271.5L130.8,272"/>
<path class="cty" d="M129.5,360.5L336,368.8"/>
<path class="cty" d="M125,473.8L146.2,475L147,477L199.5,479.2L200,470.8L296.2,473.8L297,447.5L336,446.8"/>
<path class="cty" d="M122.5,532.5L336,540.8"/>
<path class="cty" d="M20.5,508.8L111.8,513.2L114.5,508L117.5,507.5L119.5,506.2"/>
<path class="cty" d="M267,620L267,617.5L275,608.8L286.2,602L297.5,600.8L305,598L313.8,601.2L318,605L322.5,601.2L327.5,598.8L336,590"/>
<path class="cty" d="M398.5,215L398.5,293.8L389.4,293.8L389.4,305.6L380,305.6L379.4,323.8L378.5,346.2L376.9,347.5L376.9,369.4"/>
<path class="cty" d="M428,370L505,370.6"/>
<path class="cty" d="M394.4,410L394.8,396.9L428,397.5"/>
<path class="cty" d="M467.2,217.5L468.5,225L472.2,230L478.5,235L486,238.8L493.5,238L498.5,245L502.2,252.5L501,262.5L496,275L492.2,290L493.5,302.5L497.2,312.5L498.5,325L499.8,335L501,347.5L501,360"/>
<path class="cty" d="M499.8,326.2L506,340L516,342.5L524.8,335L529.8,346.2L541,346.2L553.5,350L554.8,346.2L561,350L571,351.2L580,350"/>
<path class="cty" d="M591.5,100L591.5,112"/>
<path class="cty" d="M551.8,205L551.8,215.5"/>
<path class="cty" d="M570.6,218.1L572.8,228.1L580,236.2L581.2,242.5L583.8,244.4L585,247.5L593.8,256.2L595.6,261.2L601.2,271.2L605,280L608.8,290L610,296.2L612.5,302.5L615,314.4L620,313.8L622.5,316.9L622.5,320.6"/>
<path class="cty" d="M622.5,320.6L616.9,322.5L615,327.5L614.4,333.8L611.9,338.8L609.4,342.5L606.9,346.2L604.4,348.1L600,345L596.2,343.8L591.2,346.2L585,348.1L580,350"/>
<path class="cty" d="M622.5,320.6L628.8,323.1L629.4,327.5L628.1,332.5L631.2,338.8L635,345.6L641.2,350L645,353.8L648.1,361.2L649.4,365L653.8,366.9"/>
<path class="cty" d="M653.8,366.9L680,366.9L692.5,366.9L745.6,366"/>
<path class="cty" d="M653.8,366.9L651.2,370L649.4,377.5L650.6,385L655,390L656.9,393.8L655.6,400L655,405L653.8,408.1L655,410.6L651.9,415L647.5,415.6L646.9,420"/>
<path class="cty" d="M748,348.5L745.6,348.8L745.6,419.4"/>
<path class="cty" d="M336,368.8L376,369.5L438.5,370.5L438,397.5L395.2,396.8L394,431.2L376,431.8L375.5,448.8L336,447.5"/>
<path class="cty" d="M438,397.5L438.5,432.5"/>
<path class="cty" d="M426,432.5L501,433.5L536,433.2L559.8,435L569.8,446.2L582.2,456.2L588.5,470L592.2,478.8L597.2,482L609.8,481.2L611,475L616,467.5L614.8,461.2L626,460L636,458.8L642.2,451.2L647.2,448.8L656,452.5L663.5,456.2L666,460L672,465"/>
<path class="cty" d="M426,432.5L423.5,543.8"/>
<path class="cty" d="M501,360L499.8,416.2L501,418L501,433.5"/>
<path class="cty" d="M531,433.2L532.2,445L536,453.8L539.8,463.8L546,470L553.5,476.2L558.5,483.8L566,487.5L569.8,492.5L568.5,500L564.8,505L566,510L558.5,513.8"/>
<path class="cty" d="M647.2,448.8L644.8,440L647.2,432.5L646,417.5L654.8,410L656,390L649.8,380L649.8,370L654.8,366.2L672,366.8"/>
<path class="cty" d="M647.2,432.5L672,432.5"/>
<path class="cty" d="M609.8,481.2L611,485L618.5,487.5L622.2,491.2L629.8,493.8L632.2,497.5L626,505L621,513.8L619.8,517.5L613.5,525L608.5,530L603.5,532.5L601,537.5L593.5,543.8L588.5,547.5L574.8,543.8"/>
<path class="cty" d="M626,506.2L672,505.8"/>
<path class="cty" d="M336,540.5L373.5,542.5L423.5,543.8L531,546.2L536,543.2L541,547.5L551,548.8L561,545L574.8,543.8"/>
<path class="cty" d="M558.5,513.8L558.5,522.5L562.2,532.5L564.8,541.2L561,545"/>
<path class="cty" d="M373.5,542.5L368.5,552.5L374.8,556.2L379.8,560L378.5,563.8L381,568.8L382.2,573.8L389.8,581.2L394.8,592.5L428.5,593.2L434.8,598.8L441,608.8L447.2,611.2L452.2,617.5L456,620"/>
<path class="cty" d="M379.8,563.8L373.5,565L371,567.5L362.2,568.8L361,620"/>
<path class="cty" d="M362.2,568.8L353.5,577.5L343.5,585L336,591.2"/>
<path class="cty" d="M531,546.2L526,552.5L522.2,557.5L517.2,560L519.8,563.8L518.5,572.5L517.2,580L513.5,586.2L508.5,588.8L508.5,595L504.8,600L504.8,607.5"/>
<path class="cty" d="M574.8,543.8L573.5,552.5L568.5,557.5L569.8,567.5L568.5,577.5L569.8,590L566,597.5L569.8,601.2L566,607.5L568.5,615L568.5,620"/>
<path class="cty" d="M503.5,620L504.8,607.5L566,608.2"/>
<path class="cty" d="M472.2,620L478.5,610L486,607.5L492.2,611.2L498.5,617.5L501,620"/>
<path class="cty" d="M20.5,703.2L110,707.5L218.8,712L221.2,645L258.8,631.2L259.2,628.8L267.5,620"/>
<path class="cty" d="M220,678.2L336,681.8"/>
<path class="cty" d="M336,750L256.8,748L257.5,751.2L261.2,751.8L262.5,756.2L263,762.5L275,763.8L276.2,765.8L281.2,766.2L286.2,770L285,783.8"/>
<path class="cty" d="M111.2,778L284.2,784.5L284.2,791.2L292.5,791.8L292.5,810L298.8,815L310,818.8L316.2,826.2L317.5,835L312.5,840L310,847.5L306.2,853.8L301.2,856.2L296.2,861.2L295,867.5L290,872.5L280,876.2L277.5,880"/>
<path class="cty" d="M109.2,832.5L143,833.8L143.8,831.2L233.8,834.5L236.2,840L240.5,848.8L251.2,847.5L256.2,843.8L260,846.2L263.8,845L268.8,843.8L276.2,843.8L282.5,848.8L290,855L296.2,861.2"/>
<path class="cty" d="M317.5,836.2L325,837.5L331.2,833.8L332.5,823.8L336,823.8"/>
<path class="cty" d="M333.8,750L335,757.5L336,758.8"/>
<path class="cty" d="M105,911.2L126.2,883.8L277.5,887.5L336,890"/>
<path class="cty" d="M277.5,875L278.8,880L279.5,886.2L271.2,892.5L268.8,900L267.5,912.5L265,926.2L260,928.8L255,933.8L252.5,940L246.2,942L240,943.8L236.2,951.2L232.5,960L227.5,966.2L222.5,971.2L222,982.5L220,990L215,1002.5L207.5,1011.2"/>
<path class="cty" d="M325.8,1123.8L325.8,1135"/>
<path class="cty" d="M360.5,620L358,681.2L356.5,756.2L336,756.2"/>
<path class="cty" d="M336,680.8L358,681.8"/>
<path class="cty" d="M336,757.5L341,767.5L345.5,785L344.8,788.8L434.8,790L436.5,733.8L556,735.8L583.5,736.2L586,730L591,729.5L593.5,732.5L606,721.2L611,720L613.5,707.5L614.8,700L609.8,692.5L607.2,686.2L601,682L672,682"/>
<path class="cty" d="M601,682L606,673.8L611,660L606,647.5L601,642.5L596,636.2L588.5,631.2L579.8,630L577.2,622.5L571,620"/>
<path class="cty" d="M556,735.8L548.5,725L542.2,718.8L539.8,705L533.5,692.5L527.2,683.8L524.8,678.8L528.5,673.8L529.8,657.5L536,652.5L544.8,638.8L536,636.2L522.2,636.2L511,623.8L501,620"/>
<path class="cty" d="M453.5,620L463.5,620L467.2,622.5L472.2,620"/>
<path class="cty" d="M593.5,732.5L606,747.5L616,760L626,768.8L672,770"/>
<path class="cty" d="M626,768.8L636,782.5L646,791.2L651,805L657.2,815L661,827.5L666,831.2L672,833.8"/>
<path class="cty" d="M344.8,788.8L343.5,792.5L349.8,798.8L352.2,805L347.2,812.5L341,817.5L339.8,822.5L336,823.8"/>
<path class="cty" d="M339.8,822.5L347.2,827.5L348.5,837.5L351,842.5L353.5,851.2L359.8,860L357.2,866.2L356,880"/>
<path class="cty" d="M434.8,790L434.2,826.2L438.5,826.2L441,825L447.2,827.5L453.5,827.5L458.5,835L467.2,838.8L472.2,843.8L482.2,845L483.5,880"/>
<path class="cty" d="M434.2,826.2L431,830L423.5,827L418.5,828.8L412.2,831.2L409.8,880"/>
<path class="cty" d="M483.5,853.8L499.8,854.2L500.2,871.8L672,873.8L680,873.8"/>
<path class="cty" d="M588.5,873.8L587.2,880"/>
<path class="cty" d="M355.5,880L354.8,933.8L352.2,1017.5"/>
<path class="cty" d="M336,890L355.5,890.5"/>
<path class="cty" d="M354.8,933.8L411,935L411,941.2L478.5,942L479.8,887.5L481.8,887L482.2,880"/>
<path class="cty" d="M411,935L412.2,883.8L409.8,880"/>
<path class="cty" d="M478.5,940.8L586.5,943L586.5,952L633,952.5L672,912.5L676.2,907.8"/>
<path class="cty" d="M587.2,880L586.5,943"/>
<path class="cty" d="M484,942L483,975.5L496,982.5L497.2,993.8L514,1021.2"/>
<path class="cty" d="M633,952.5L638,966.2L634.8,976.2L636,987.5L633,997.5L634,1005L629.8,1016.2L636,1022"/>
<path class="cty" d="M361,1021.2L356.5,1030L357.2,1041.2"/>
<path class="cty" d="M590.5,1025L594.8,1041.2"/>
<path class="cty" d="M601,1123.8L600.5,1135"/>
<path class="cty" d="M762.8,219.5L762,349.2L745.2,349.2L745.2,360"/>
<path class="cty" d="M972,217L973.2,275L972,312"/>
<path class="cty" d="M884.5,360L885.2,313.2L989.5,312L990.8,360"/>
<path class="cty" d="M990.8,328.8L1008,327.5"/>
<path class="cty" d="M711.2,100L711.2,215.5"/>
<path class="cty" d="M807,102.5L895.8,103"/>
<path class="cty" d="M999.5,100L1002,125L1003.2,210L1003.2,215.5"/>
<path class="cty" d="M992,135.8L1000.8,135.8"/>
<path class="cty" d="M1113,215.5L1115,263.8L1114.2,272.5L1112.5,273L1114.2,326.2"/>
<path class="cty" d="M1115,263.8L1205.5,261.2"/>
<path class="cty" d="M1008,328.8L1096.8,327L1208,323.8"/>
<path class="cty" d="M1096.8,327L1096,343.8L1094.8,345L1094.8,360"/>
<path class="cty" d="M1008,127L1111.8,124.5L1113,132.5L1116.8,133.2L1119.2,202.5L1117.2,203.8L1117.2,212"/>
<path class="cty" d="M1112.5,100L1113,124.5"/>
<path class="cty" d="M1118.5,167.5L1202.5,165.5"/>
<path class="cty" d="M1323.5,126.2L1201.8,130.8L1205.5,209.5L1324.2,205"/>
<path class="cty" d="M1211.8,100L1212.5,130"/>
<path class="cty" d="M1299.2,100L1300,126.2"/>
<path class="cty" d="M1321.8,127L1324.2,197.5"/>
<path class="cty" d="M1208,271.2L1324.2,266.8"/>
<path class="cty" d="M1315.5,268L1318.8,337"/>
<path class="cty" d="M1210.5,341.2L1324.2,337"/>
<path class="cty" d="M1321.8,337.5L1323.5,360"/>
<path class="cty" d="M672,366.8L745.8,366.8L745.8,418.8L954.5,418L991.5,417L990.8,360"/>
<path class="cty" d="M745.8,360L745.8,366.8"/>
<path class="cty" d="M884.5,360L885.8,418"/>
<path class="cty" d="M954.5,418L955.8,470L955.8,505L954.5,620"/>
<path class="cty" d="M672,432.5L684.5,432L685.8,433.2L692,433.2L692,437.5L728.2,437L729.5,441.2L733.2,441.2L732,435L736.5,428.8L742,427.5L743.2,430.5L747,422.5L752,420L759.5,411.2L760,418.8"/>
<path class="cty" d="M692,437.5L691.5,594.5L702,595L748.2,595L903.2,594.5L903.2,620"/>
<path class="cty" d="M702,595L702,620"/>
<path class="cty" d="M748.2,595L749.5,620"/>
<path class="cty" d="M672,467L682,468L691.5,469.5"/>
<path class="cty" d="M672,507L691.5,507"/>
<path class="cty" d="M745.8,418.8L746.5,507.5"/>
<path class="cty" d="M746.5,462L764.5,461.2L768.2,462.5L772,458L775,460L786.5,459.5L787,451.2L796.5,450.5L796.5,440L802,437.5L809.5,438.8L816.5,440L814,446.2L814,455L791.5,456.2L795.8,460L795.2,466.2L779.5,466.2L773.2,470L773.2,477.5L770.8,483.8L774.5,487.5L777.5,488.8L772,495L768.2,495L766.5,489.5L759.5,487.5L752,485L747,490L742,490L737.5,493.8L740.8,496.2L745.8,496.2"/>
<path class="cty" d="M773.2,472L955.8,470.5"/>
<path class="cty" d="M746.5,507.5L807,507.5L955.8,505L1008,504.2"/>
<path class="cty" d="M807,507.5L807,594.5"/>
<path class="cty" d="M746.5,507.5L742,515L739.5,523.8L733.2,526.2L734.5,535L727.5,539.5L728.2,547.5L725.8,552.5L722,562.5L718.2,570L713.2,573.8L712,580L704.5,588.8L702,595"/>
<path class="cty" d="M1095,360L1096,413.8L1094.8,415L1097.2,502"/>
<path class="cty" d="M1008,504.5L1041.8,504.2L1097.2,502L1213,497.5"/>
<path class="cty" d="M1041.8,504.2L1044.2,592.5L1043,593.8L1043.8,620"/>
<path class="cty" d="M1043,610L1216.8,604.2"/>
<path class="cty" d="M1216.8,498.8L1318,495.5L1324.2,495"/>
<path class="cty" d="M1311,410L1313.5,495"/>
<path class="cty" d="M1318,495.5L1321,582"/>
<path class="cty" d="M1219.2,586.8L1321,582L1324.2,582"/>
<path class="cty" d="M1307.2,583.8L1308.8,620"/>
<path class="cty" d="M1322.5,360L1323.8,407"/>
<path class="cty" d="M702.5,620L701.5,681.8L672,682.5"/>
<path class="cty" d="M701.5,681.8L716.5,682.5L715.8,692L762.5,691.8L763.2,662.5L742.8,661.2L743.8,647.5L749.5,647L750,620"/>
<path class="cty" d="M763.2,691.8L763.8,718L763.2,770.8L746.2,770.8L672,769.5"/>
<path class="cty" d="M763.8,718L904,716.2L990.8,715.8L1008,715"/>
<path class="cty" d="M903.2,620L904,716.2L905,876.2"/>
<path class="cty" d="M903.2,646.2L955.8,645.8L955.2,620"/>
<path class="cty" d="M990.8,715.8L992,767.5L1008,767"/>
<path class="cty" d="M992,767.5L991.5,786.2L974,786.8L974,798.8L944.5,798.8L939.5,797.5L932,796.2L922,796.2L913.2,792.5L904.5,793.2"/>
<path class="cty" d="M746.2,770.8L746.2,837.5L751.5,846.2L810.8,842.5L857,859.5L904.5,875.5"/>
<path class="cty" d="M857,859.5L847,868.8L838.2,880"/>
<path class="cty" d="M746.2,837.5L740.8,832.5L735.8,831.2L730.8,822.5L727,819.5L723.2,821.2L719.5,827.5L714.5,832.5L709.5,842.5L704.5,835.5L697,837.5L687,844.5L678.2,844.5L672,835"/>
<path class="cty" d="M678.2,844.5L683.2,852.5L684.5,861.2L681.5,867.5L680.8,880L677,891.2L675,901.2"/>
<path class="cty" d="M1043,620L1044.2,680L1042.5,681.2L1043,713.8L1008,715"/>
<path class="cty" d="M1043,695.8L1220,691.2"/>
<path class="cty" d="M1010.5,880L1008,767.5L1113,764.5L1223,761.2"/>
<path class="cty" d="M1113,764.5L1115.5,880"/>
<path class="cty" d="M1223,674.2L1296.8,672L1324.2,670.5"/>
<path class="cty" d="M1308,620L1309.8,670.5"/>
<path class="cty" d="M1296.8,672L1299.8,758.8"/>
<path class="cty" d="M1225.5,762.5L1303,759.5L1324.2,758.2"/>
<path class="cty" d="M1303,759.5L1306.8,847L1309.8,847.5L1311,880"/>
<path class="cty" d="M1229.2,868L1324.2,865"/>
<path class="cty" d="M672,906.2L675.8,900L682,903.8L687,898.8L695.8,896.2L704.5,892L712,897.5L718.2,899.5L723.2,898.8L719.5,906.2L724.5,912.5L726.2,922.5L725.8,932.5L729.5,933.8L732,941.2L727,945.5L727.5,965L729,966.2L729,1022.5"/>
<path class="cty" d="M729,966.2L735.8,963.8L749.5,955L752,951.2L765.8,945L773.2,946.2L782,943.8L794.5,940L802,935.5L803.2,926.2L812,921.2L819.5,912.5L827,901.2L834.5,887.5L838.2,880"/>
<path class="cty" d="M904.5,880L905,893.8L1008,892.5"/>
<path class="cty" d="M717,1026.2L715.8,1031.2L720.8,1042.5L718.2,1052.5L717,1065L717.5,1075L713.2,1080L704.5,1080L701.5,1084.5L695.8,1086.2L693.2,1091.2L695.8,1098.8L694,1106.2L697,1111.2L693.2,1115L698.2,1121.2L701.5,1127.5L697,1135"/>
<path class="cty" d="M914.5,1025L915.8,1135"/>
<path class="cty" d="M1008,892L1063,891.2L1115.5,889.5L1227.5,886.8"/>
<path class="cty" d="M1115.5,880L1115.5,889.5"/>
<path class="cty" d="M1063,891.2L1063.5,943.8L1062.5,945L1063.5,1018.8"/>
<path class="cty" d="M1009.2,880L1010,892"/>
<path class="cty" d="M1233,938L1308,935.5L1324.2,934.5"/>
<path class="cty" d="M1311,880L1313,935"/>
<path class="cty" d="M1308,936.2L1311.8,1012.5"/>
<path class="cty" d="M1235,1016.2L1235.5,1046.2L1234.2,1047.5L1237.2,1116.2"/>
<path class="cty" d="M1215.5,1120L1216.2,1135"/>
<path class="cty" d="M1303.5,1116.2L1304.8,1135"/>
<path class="st" d="M20,198.4L50,199.9L100,202.3L150,204.6L200,206.6L250,208.5L300,210.2L350,211.8L400,213.1L450,214.3L500,215.3L550,216.2L600,216.8L650,217.3L700,217.6L750,217.7L800,217.7L850,217.5L900,217.1L950,216.5L1000,215.7L1050,214.8L1100,213.7L1150,212.4L1200,210.9L1204.6,210.8"/>
<path class="st" d="M20,1006.2L50,1007.6L100,1010L150,1012.1L200,1014.1L250,1015.9L300,1017.6L350,1019.1L400,1020.4L450,1021.5L500,1022.5L550,1023.2L600,1023.9L650,1024.3L700,1024.6L750,1024.7L800,1024.6L850,1024.4L900,1023.9L950,1023.4L1000,1022.6L1050,1021.7L1100,1020.6L1150,1019.3L1200,1017.8L1250,1016.2L1300,1014.4L1325,1013.5"/>
<path class="st" d="M135.6,203.9L93.5,1134.8"/>
<path class="st" d="M1204.6,210.8L1232.8,1016.8"/>
<path class="st" d="M898.2,100L898.2,217.1"/>
<path class="st" d="M1211.6,411.2L1325,407"/>
<path class="st" d="M1076.8,1021.1L1080.6,1121.3"/>
<path class="st" d="M1072.5,1136L1072.5,1122L1233,1116.2L1325,1113.7"/>
</g>
<!-- frame -->
<rect x="20" y="100" width="1305" height="1034.8" fill="none" stroke="#000" stroke-width="1.7"/>
<!-- title -->
<text class="ttl" x="672.5" y="45.5">percent of 1991-2020 average precipitation</text>
<text class="ttl" x="672.5" y="84.2">4 months ending January 1981 (Oct-Jan)</text>
<!-- stats box -->
<rect x="355.4" y="111.6" width="635.6" height="95.2" fill="#fff" stroke="#000" stroke-width="3"/>
<text class="box" x="364.4" y="139.1">statewide departure from 1901-2000 avg: -2.2 inches</text>
<text class="box" x="364.4" y="165.7">statewide departure from 1991-2020 avg: -2.4 inches</text>
<text class="box" x="364.4" y="192.5">statewide rank: 3rd driest/128th wettest</text>
<!-- source box -->
<rect x="31.5" y="1040.9" width="627" height="83.4" fill="#fff" stroke="#000" stroke-width="3"/>
<text class="src" x="39.5" y="1066.1">source: NOAA/NCEI nclimgrid</text>
<text class="src" x="39.5" y="1088.7">map: Colorado Climate Center/Colorado State University</text>
<text class="src" x="39.5" y="1111.4">map generated 14 March 2025</text>
<!-- colorbar -->
<g id="cbar">
<polygon points="69,1167.4 122.5,1147.4 123,1147.4 123,1186.6 122.5,1186.6" fill="#543005"/>
<rect x="122.5" y="1147.4" width="122.6" height="39.2" fill="#734208"/>
<rect x="244.7" y="1147.4" width="122.6" height="39.2" fill="#ad7021"/>
<rect x="366.9" y="1147.4" width="122.6" height="39.2" fill="#d8b46c"/>
<rect x="489.1" y="1147.4" width="122.6" height="39.2" fill="#f3e4bb"/>
<rect x="611.3" y="1147.4" width="122.6" height="39.2" fill="#f4f5f5"/>
<rect x="733.5" y="1147.4" width="122.6" height="39.2" fill="#bfe7e1"/>
<rect x="855.7" y="1147.4" width="122.6" height="39.2" fill="#70c1b6"/>
<rect x="977.9" y="1147.4" width="122.6" height="39.2" fill="#23867e"/>
<rect x="1100.1" y="1147.4" width="122.2" height="39.2" fill="#015349"/>
<polygon points="1221.8,1147.4 1222.3,1147.4 1275.8,1167.4 1222.3,1186.6 1221.8,1186.6" fill="#003c30"/>
<polygon points="69,1167.4 122.5,1147.4 1222.3,1147.4 1275.8,1167.4 1222.3,1186.6 122.5,1186.6" fill="none" stroke="#000" stroke-width="2" stroke-linejoin="miter"/>
<g stroke="#000" stroke-width="1.8">
<line x1="122.5" y1="1186.6" x2="122.5" y2="1196.7"/>
<line x1="244.7" y1="1186.6" x2="244.7" y2="1196.7"/>
<line x1="366.9" y1="1186.6" x2="366.9" y2="1196.7"/>
<line x1="489.1" y1="1186.6" x2="489.1" y2="1196.7"/>
<line x1="611.3" y1="1186.6" x2="611.3" y2="1196.7"/>
<line x1="733.5" y1="1186.6" x2="733.5" y2="1196.7"/>
<line x1="855.7" y1="1186.6" x2="855.7" y2="1196.7"/>
<line x1="977.9" y1="1186.6" x2="977.9" y2="1196.7"/>
<line x1="1100.1" y1="1186.6" x2="1100.1" y2="1196.7"/>
<line x1="1222.3" y1="1186.6" x2="1222.3" y2="1196.7"/>
</g>
<text class="tick" x="122.5" y="1230">10</text>
<text class="tick" x="244.7" y="1230">30</text>
<text class="tick" x="366.9" y="1230">50</text>
<text class="tick" x="489.1" y="1230">70</text>
<text class="tick" x="611.3" y="1230">90</text>
<text class="tick" x="733.5" y="1230">110</text>
<text class="tick" x="855.7" y="1230">130</text>
<text class="tick" x="977.9" y="1230">150</text>
<text class="tick" x="1100.1" y="1230">170</text>
<text class="tick" x="1222.3" y="1230">190</text>
<text class="cbl" x="672.5" y="1273">percent of average precipitation</text>
</g>
</svg>
</body>
</html>
